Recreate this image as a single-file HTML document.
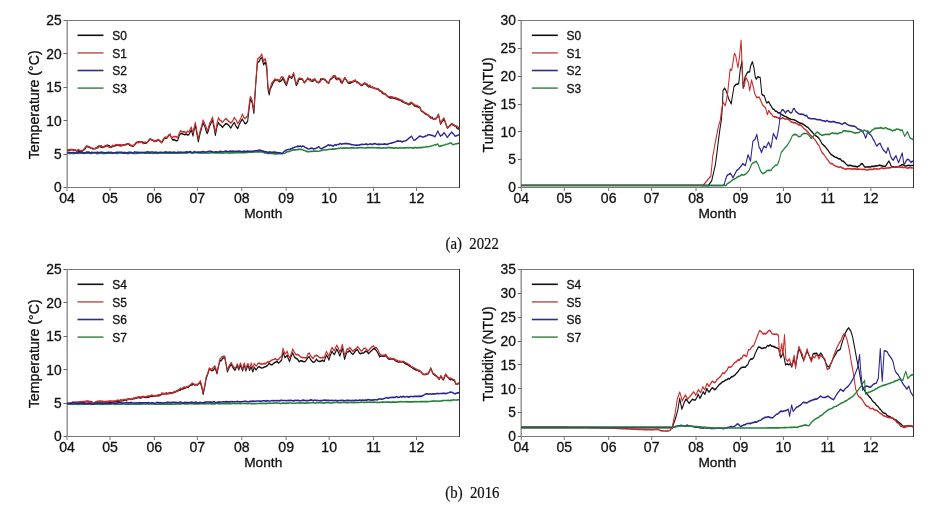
<!DOCTYPE html>
<html><head><meta charset="utf-8"><title>Figure</title>
<style>html,body{margin:0;padding:0;background:#fff;}body{width:942px;height:509px;overflow:hidden}svg{display:block}</style>
</head><body>
<svg width="942" height="509" viewBox="0 0 942 509" font-family="'Liberation Sans', Arial, Helvetica, sans-serif">
<rect width="942" height="509" fill="#fff"/>
<rect x="67" y="20" width="392.5" height="1" fill="#777"/>
<rect x="67" y="187" width="392.5" height="1" fill="#777"/>
<rect x="66" y="20" width="1" height="168" fill="#c6c6c6"/>
<rect x="67" y="20" width="1" height="168" fill="#9a9797"/>
<rect x="459" y="20" width="1" height="168" fill="#333"/>
<line x1="67" y1="188" x2="67" y2="191" stroke="#777" stroke-width="1"/>
<line x1="109.97" y1="188" x2="109.97" y2="191" stroke="#777" stroke-width="1"/>
<line x1="154.38" y1="188" x2="154.38" y2="191" stroke="#777" stroke-width="1"/>
<line x1="197.36" y1="188" x2="197.36" y2="191" stroke="#777" stroke-width="1"/>
<line x1="241.77" y1="188" x2="241.77" y2="191" stroke="#777" stroke-width="1"/>
<line x1="286.17" y1="188" x2="286.17" y2="191" stroke="#777" stroke-width="1"/>
<line x1="329.15" y1="188" x2="329.15" y2="191" stroke="#777" stroke-width="1"/>
<line x1="373.56" y1="188" x2="373.56" y2="191" stroke="#777" stroke-width="1"/>
<line x1="416.53" y1="188" x2="416.53" y2="191" stroke="#777" stroke-width="1"/>
<line x1="63.5" y1="187.5" x2="67" y2="187.5" stroke="#666" stroke-width="1"/>
<line x1="63.5" y1="154.5" x2="67" y2="154.5" stroke="#666" stroke-width="1"/>
<line x1="63.5" y1="120.5" x2="67" y2="120.5" stroke="#666" stroke-width="1"/>
<line x1="63.5" y1="87.5" x2="67" y2="87.5" stroke="#666" stroke-width="1"/>
<line x1="63.5" y1="53.5" x2="67" y2="53.5" stroke="#666" stroke-width="1"/>
<line x1="63.5" y1="20.5" x2="67" y2="20.5" stroke="#666" stroke-width="1"/>
<line x1="77.5" y1="35.3" x2="103.5" y2="35.3" stroke="#111111" stroke-width="1.6"/>
<line x1="77.5" y1="52.9" x2="103.5" y2="52.9" stroke="#c4605a" stroke-width="1.6"/>
<line x1="77.5" y1="70.5" x2="103.5" y2="70.5" stroke="#2d2d8c" stroke-width="1.6"/>
<line x1="77.5" y1="88.1" x2="103.5" y2="88.1" stroke="#4a8f4f" stroke-width="1.6"/>
<rect x="521" y="20" width="392.5" height="1" fill="#777"/>
<rect x="521" y="187" width="392.5" height="1" fill="#777"/>
<rect x="520" y="20" width="1" height="168" fill="#c6c6c6"/>
<rect x="521" y="20" width="1" height="168" fill="#9a9797"/>
<rect x="913" y="20" width="1" height="168" fill="#333"/>
<line x1="521.3" y1="188" x2="521.3" y2="191" stroke="#777" stroke-width="1"/>
<line x1="564.27" y1="188" x2="564.27" y2="191" stroke="#777" stroke-width="1"/>
<line x1="608.68" y1="188" x2="608.68" y2="191" stroke="#777" stroke-width="1"/>
<line x1="651.66" y1="188" x2="651.66" y2="191" stroke="#777" stroke-width="1"/>
<line x1="696.06" y1="188" x2="696.06" y2="191" stroke="#777" stroke-width="1"/>
<line x1="740.47" y1="188" x2="740.47" y2="191" stroke="#777" stroke-width="1"/>
<line x1="783.45" y1="188" x2="783.45" y2="191" stroke="#777" stroke-width="1"/>
<line x1="827.86" y1="188" x2="827.86" y2="191" stroke="#777" stroke-width="1"/>
<line x1="870.83" y1="188" x2="870.83" y2="191" stroke="#777" stroke-width="1"/>
<line x1="517.8" y1="187.5" x2="521.3" y2="187.5" stroke="#666" stroke-width="1"/>
<line x1="517.8" y1="159.5" x2="521.3" y2="159.5" stroke="#666" stroke-width="1"/>
<line x1="517.8" y1="131.5" x2="521.3" y2="131.5" stroke="#666" stroke-width="1"/>
<line x1="517.8" y1="104.5" x2="521.3" y2="104.5" stroke="#666" stroke-width="1"/>
<line x1="517.8" y1="76.5" x2="521.3" y2="76.5" stroke="#666" stroke-width="1"/>
<line x1="517.8" y1="48.5" x2="521.3" y2="48.5" stroke="#666" stroke-width="1"/>
<line x1="517.8" y1="20.5" x2="521.3" y2="20.5" stroke="#666" stroke-width="1"/>
<line x1="531.8" y1="35.3" x2="557.8" y2="35.3" stroke="#111111" stroke-width="1.6"/>
<line x1="531.8" y1="52.9" x2="557.8" y2="52.9" stroke="#c4605a" stroke-width="1.6"/>
<line x1="531.8" y1="70.5" x2="557.8" y2="70.5" stroke="#2d2d8c" stroke-width="1.6"/>
<line x1="531.8" y1="88.1" x2="557.8" y2="88.1" stroke="#4a8f4f" stroke-width="1.6"/>
<rect x="67" y="269" width="392.5" height="1" fill="#777"/>
<rect x="67" y="436" width="392.5" height="1" fill="#777"/>
<rect x="66" y="269" width="1" height="168" fill="#c6c6c6"/>
<rect x="67" y="269" width="1" height="168" fill="#9a9797"/>
<rect x="459" y="269" width="1" height="168" fill="#333"/>
<line x1="67" y1="437" x2="67" y2="440" stroke="#777" stroke-width="1"/>
<line x1="109.97" y1="437" x2="109.97" y2="440" stroke="#777" stroke-width="1"/>
<line x1="154.38" y1="437" x2="154.38" y2="440" stroke="#777" stroke-width="1"/>
<line x1="197.36" y1="437" x2="197.36" y2="440" stroke="#777" stroke-width="1"/>
<line x1="241.77" y1="437" x2="241.77" y2="440" stroke="#777" stroke-width="1"/>
<line x1="286.17" y1="437" x2="286.17" y2="440" stroke="#777" stroke-width="1"/>
<line x1="329.15" y1="437" x2="329.15" y2="440" stroke="#777" stroke-width="1"/>
<line x1="373.56" y1="437" x2="373.56" y2="440" stroke="#777" stroke-width="1"/>
<line x1="416.53" y1="437" x2="416.53" y2="440" stroke="#777" stroke-width="1"/>
<line x1="63.5" y1="436.5" x2="67" y2="436.5" stroke="#666" stroke-width="1"/>
<line x1="63.5" y1="403.5" x2="67" y2="403.5" stroke="#666" stroke-width="1"/>
<line x1="63.5" y1="369.5" x2="67" y2="369.5" stroke="#666" stroke-width="1"/>
<line x1="63.5" y1="336.5" x2="67" y2="336.5" stroke="#666" stroke-width="1"/>
<line x1="63.5" y1="302.5" x2="67" y2="302.5" stroke="#666" stroke-width="1"/>
<line x1="63.5" y1="269.5" x2="67" y2="269.5" stroke="#666" stroke-width="1"/>
<line x1="77.5" y1="284.3" x2="103.5" y2="284.3" stroke="#111111" stroke-width="1.6"/>
<line x1="77.5" y1="301.9" x2="103.5" y2="301.9" stroke="#c4605a" stroke-width="1.6"/>
<line x1="77.5" y1="319.5" x2="103.5" y2="319.5" stroke="#2d2d8c" stroke-width="1.6"/>
<line x1="77.5" y1="337.1" x2="103.5" y2="337.1" stroke="#4a8f4f" stroke-width="1.6"/>
<rect x="521" y="269" width="392.5" height="1" fill="#777"/>
<rect x="521" y="436" width="392.5" height="1" fill="#777"/>
<rect x="520" y="269" width="1" height="168" fill="#c6c6c6"/>
<rect x="521" y="269" width="1" height="168" fill="#9a9797"/>
<rect x="913" y="269" width="1" height="168" fill="#333"/>
<line x1="521.3" y1="437" x2="521.3" y2="440" stroke="#777" stroke-width="1"/>
<line x1="564.27" y1="437" x2="564.27" y2="440" stroke="#777" stroke-width="1"/>
<line x1="608.68" y1="437" x2="608.68" y2="440" stroke="#777" stroke-width="1"/>
<line x1="651.66" y1="437" x2="651.66" y2="440" stroke="#777" stroke-width="1"/>
<line x1="696.06" y1="437" x2="696.06" y2="440" stroke="#777" stroke-width="1"/>
<line x1="740.47" y1="437" x2="740.47" y2="440" stroke="#777" stroke-width="1"/>
<line x1="783.45" y1="437" x2="783.45" y2="440" stroke="#777" stroke-width="1"/>
<line x1="827.86" y1="437" x2="827.86" y2="440" stroke="#777" stroke-width="1"/>
<line x1="870.83" y1="437" x2="870.83" y2="440" stroke="#777" stroke-width="1"/>
<line x1="517.8" y1="436.5" x2="521.3" y2="436.5" stroke="#666" stroke-width="1"/>
<line x1="517.8" y1="412.5" x2="521.3" y2="412.5" stroke="#666" stroke-width="1"/>
<line x1="517.8" y1="388.5" x2="521.3" y2="388.5" stroke="#666" stroke-width="1"/>
<line x1="517.8" y1="364.5" x2="521.3" y2="364.5" stroke="#666" stroke-width="1"/>
<line x1="517.8" y1="341.5" x2="521.3" y2="341.5" stroke="#666" stroke-width="1"/>
<line x1="517.8" y1="317.5" x2="521.3" y2="317.5" stroke="#666" stroke-width="1"/>
<line x1="517.8" y1="293.5" x2="521.3" y2="293.5" stroke="#666" stroke-width="1"/>
<line x1="517.8" y1="269.5" x2="521.3" y2="269.5" stroke="#666" stroke-width="1"/>
<line x1="531.8" y1="284.3" x2="557.8" y2="284.3" stroke="#111111" stroke-width="1.6"/>
<line x1="531.8" y1="301.9" x2="557.8" y2="301.9" stroke="#c4605a" stroke-width="1.6"/>
<line x1="531.8" y1="319.5" x2="557.8" y2="319.5" stroke="#2d2d8c" stroke-width="1.6"/>
<line x1="531.8" y1="337.1" x2="557.8" y2="337.1" stroke="#4a8f4f" stroke-width="1.6"/>
<path d="M83.75 120.24 L85.31 120.02 L86.88 120.2 L88.44 119.79 L90 119.76 L92 119.95 L94 120.03 L96 120.72 L97.96 120.69 L99.92 121.27 L101.88 120.88 L103.38 120.49 L104.88 119.76 L106.69 118.77 L108.5 116.96 L110.37 117.54 L112.25 117.92 L114.44 118.64 L116.62 119.04 L118.81 118.79 L121 118.4 L122.87 117.01 L124.75 116.96 L126.56 117.78 L128.38 117.92 L129.88 117.64 L131.37 117.16 L132.88 116.48 L134.83 116.28 L136.79 116.74 L138.75 117.92 L140.59 117.08 L142.44 116.77 L144.28 116.6 L146.12 116 L148.08 116.14 L150.04 116.53 L152 116.48 L153.77 115.94 L155.55 116.03 L157.32 115.77 L159.1 115.06 L160.87 115.04 L162.58 116.37 L164.29 116.54 L166 116.96 L167.71 116.43 L169.42 114.69 L171.12 113.92 L173.12 113.54 L175.12 113.62 L177.12 113.68 L179.08 113.93 L181.04 114.52 L183 114.56 L185.19 113.02 L187.38 111.28 L189.33 111.74 L191.29 112.18 L193.25 113.2 L194.75 112.51 L196.25 112.73 L197.75 111.76 L199.94 112.64 L202.12 114.16 L203.94 112.34 L205.75 110.32 L207.25 110.49 L208.75 110.32 L210.62 108.32 L212.5 107.52 L214.75 110.8 L216.25 112.22 L217.75 111.52 L219.94 112.59 L222.12 112.4 L223.94 108.63 L225.75 106.8 L227.5 106.94 L229.25 107.34 L231 107.68 L232.71 107.29 L234.42 107.92 L236.12 107.68 L237.63 105.77 L239.12 103.92 L241.25 108.64 L242.75 103.7 L244.25 100.16 L246.06 107.16 L247.88 113.36 L250.12 106.8 L251.94 102.84 L253.75 98.24 L256 101.12 L257.5 104.41 L259 106.8 L260.44 104.65 L261.88 101.12 L263.75 98.69 L265.62 95.92 L267.44 102.1 L269.25 108.16 L271.12 101.66 L273 98.16 L274.71 99.74 L276.42 100.43 L278.12 102 L280.31 100.18 L282.5 98.8 L284.5 99.39 L286.5 100.74 L288.5 102.4 L290.69 99.95 L292.88 98 L295.06 101.02 L297.25 102.8 L299.17 99.34 L301.08 97.14 L303 95.36 L304.62 97.23 L306.25 98.88 L307.94 98.53 L309.62 96.8 L311.25 87.68 L312.88 79.2 L315.12 82 L317.38 90.56 L319.5 69.36 L321.75 50.32 L324 48.96 L325.62 46.91 L327.25 46.08 L329.5 51.76 L331.62 49.68 L333.37 54.56 L335 71.6 L336.5 75.76 L337.94 71.09 L339.38 69.44 L341.56 66.05 L343.75 64.08 L345.62 64.09 L347.5 64.31 L349.38 65.44 L351.56 64.63 L353.75 62.64 L355.94 66.14 L358.12 68.32 L359.81 64.85 L361.5 61.2 L363.12 62.07 L364.75 62.64 L367 59.12 L368.69 63.98 L370.38 68.32 L372 66.8 L373.62 63.36 L375.81 63.45 L378 63.44 L380.25 66.24 L382.44 64.79 L384.62 62.72 L386.12 63.74 L387.62 63.17 L389.12 64.8 L391.31 64.89 L393.5 63.44 L395.69 65.41 L397.88 66.24 L399.38 65.62 L400.87 63.19 L402.37 63.44 L404.56 63.42 L406.75 64.16 L408.88 65.83 L411 66.48 L412.69 63.63 L414.38 62.96 L416.25 61.77 L418.12 60.8 L419.56 62.85 L421 63.68 L422.62 62.53 L424.25 62.96 L425.94 65.69 L427.62 66.48 L429.25 64.69 L430.87 62.24 L432.37 63.56 L433.88 65.26 L435.38 66.48 L437.56 66.51 L439.75 65.76 L441.94 65.11 L444.12 64.32 L445.78 65.91 L447.44 65.72 L449.09 66.77 L450.75 67.92 L452.41 68.37 L454.06 67.58 L455.72 66.85 L457.37 67.2 L459.03 68.47 L460.69 69.48 L462.34 69.03 L464 70 L465.77 69.85 L467.55 70.53 L469.32 70.82 L471.1 71.06 L472.88 71.44 L474.53 72.77 L476.19 72.87 L477.84 74.48 L479.5 74.96 L481.16 75.25 L482.81 76.11 L484.47 77.26 L486.12 77.76 L487.78 78.3 L489.44 78.39 L491.09 78.41 L492.75 78.48 L494.41 78.89 L496.06 79.25 L497.72 79.74 L499.38 79.92 L501 80.45 L502.62 81.18 L504.25 81.68 L506.25 82.38 L508.25 82.72 L509.69 83.28 L511.12 83.84 L512.81 83.28 L514.5 82.24 L516.25 83.33 L518 84.7 L519.75 84.96 L521.46 85.44 L523.17 85.57 L524.87 86.08 L526.62 88.8 L528.34 89.38 L530.06 90.2 L531.78 91.2 L533.5 91.6 L535.2 92.26 L536.9 93.26 L538.6 94.49 L540.3 93.85 L542 95.44 L543.75 94.8 L545.5 94.88 L546.81 93.32 L548.12 91.6 L550.62 99.28 L552.81 97.21 L555 94.88 L557.12 98.8 L559.25 102.56 L560.96 101.33 L562.67 100.58 L564.38 99.28 L566.12 99.93 L567.88 100.23 L569.62 100.96 L571.69 102.82 L573.75 103.12" fill="none" stroke="#111111" stroke-width="1.3" stroke-linejoin="round" transform="scale(0.8,1.25)"/>
<path d="M83.75 120.08 L85.31 120.1 L86.88 119.62 L88.44 119.68 L90 119.6 L92 119.83 L94 120.21 L96 120.56 L97.96 119.52 L99.92 120.47 L101.88 120.72 L103.38 120.56 L104.88 119.6 L106.69 117.73 L108.5 116.8 L110.37 117.25 L112.25 117.76 L114.44 118.7 L116.62 118.88 L118.81 118.9 L121 118.24 L122.87 118.12 L124.75 116.8 L126.56 116.6 L128.38 117.76 L129.88 117.14 L131.37 116.66 L132.88 116.32 L134.83 117.05 L136.79 117.72 L138.75 117.76 L140.59 116.21 L142.44 117.24 L144.28 115.74 L146.12 115.84 L148.08 116.27 L150.04 115.56 L152 116.32 L153.77 116.1 L155.55 116.22 L157.32 115.4 L159.1 115.24 L160.87 114.88 L162.58 115.84 L164.29 116.22 L166 116.8 L167.71 115.75 L169.42 115.39 L171.12 113.76 L173.12 114.1 L175.12 113.48 L177.12 113.52 L179.08 114.91 L181.04 113.65 L183 114.4 L185.19 113.13 L187.38 111.12 L189.33 111.65 L191.29 112.45 L193.25 113.04 L194.75 112.84 L196.25 112.17 L197.75 111.6 L199.94 113.06 L202.12 114 L203.94 111.47 L205.75 110.16 L207.25 109.56 L208.75 110.16 L210.62 109.01 L212.5 107.36 L214.75 110.64 L216.25 109.5 L217.75 109.28 L219.94 109.23 L222.12 110.16 L223.94 106.65 L225.75 104.56 L227.5 105.46 L229.25 105.51 L231 105.44 L232.71 106.15 L234.42 104.99 L236.12 105.44 L237.63 103.56 L239.12 101.68 L241.25 106.4 L242.75 101.61 L244.25 97.92 L246.06 104.89 L247.88 111.12 L250.12 104.56 L251.94 101.04 L253.75 96 L256 98.88 L257.5 101.29 L259 104.56 L260.44 102.47 L261.88 98.88 L263.75 96.75 L265.62 93.68 L267.44 99.71 L269.25 105.92 L271.12 99.09 L273 94.16 L274.71 96.12 L276.42 96.67 L278.12 98 L280.31 96.11 L282.5 94.8 L284.5 96.19 L286.5 97.4 L288.5 98.4 L290.69 96.92 L292.88 94 L295.06 95.91 L297.25 98.8 L299.17 96.87 L301.08 94.55 L303 91.36 L304.62 93.82 L306.25 94.88 L307.94 93.75 L309.62 92.8 L311.25 84.64 L312.88 77.2 L315.12 80 L317.38 88.56 L319.5 67.36 L321.75 47.52 L324 46.16 L325.62 45.05 L327.25 43.28 L329.5 48.96 L331.62 46.88 L333.37 51.76 L335 68.8 L336.5 72.96 L337.94 69.87 L339.38 66.64 L341.56 64.95 L343.75 63.12 L345.62 64.43 L347.5 63.87 L349.38 64.48 L351.56 61.7 L353.75 61.68 L355.94 64.29 L358.12 67.36 L359.81 62.69 L361.5 60.24 L363.12 61.45 L364.75 61.68 L367 58.16 L368.69 62.95 L370.38 67.36 L372 64.51 L373.62 62.4 L375.81 62.75 L378 63.12 L380.25 65.92 L382.44 64.66 L384.62 62.4 L386.12 63.14 L387.62 64.58 L389.12 64.48 L391.31 63.76 L393.5 63.12 L395.69 65.14 L397.88 65.92 L399.38 65.88 L400.87 65.02 L402.37 63.12 L404.56 63.08 L406.75 63.84 L408.88 65.53 L411 66.16 L412.69 63.27 L414.38 62.64 L416.25 60.91 L418.12 60.48 L419.56 60.74 L421 63.36 L422.62 63.64 L424.25 62.64 L425.94 63.66 L427.62 66.16 L429.25 64.03 L430.87 61.92 L432.37 63.22 L433.88 64.73 L435.38 66.16 L437.56 65.45 L439.75 65.44 L441.94 64.86 L444.12 64 L445.78 65.97 L447.44 65.83 L449.09 67.02 L450.75 67.6 L452.41 68.02 L454.06 67.12 L455.72 66.3 L457.37 66.88 L459.03 67.25 L460.69 68.92 L462.34 67.99 L464 69.68 L465.77 69.78 L467.55 70.58 L469.32 70.8 L471.1 70.83 L472.88 71.12 L474.53 72.26 L476.19 72.93 L477.84 73.38 L479.5 74.64 L481.16 74.84 L482.81 75.84 L484.47 77.04 L486.12 77.44 L487.78 77.44 L489.44 77.51 L491.09 77.73 L492.75 78.16 L494.41 78.03 L496.06 78.84 L497.72 78.86 L499.38 79.6 L501 80.3 L502.62 80.02 L504.25 81.36 L506.25 81.98 L508.25 82.4 L509.69 82.75 L511.12 83.52 L512.81 82.1 L514.5 81.92 L516.25 83.06 L518 83.65 L519.75 84.64 L521.46 84.3 L523.17 85.11 L524.87 85.76 L526.62 88.48 L528.34 89.27 L530.06 89.73 L531.78 90.83 L533.5 91.28 L535.2 92.29 L536.9 93.03 L538.6 93.69 L540.3 94.78 L542 95.12 L543.75 95.05 L545.5 94.56 L546.81 93.06 L548.12 91.28 L550.62 98.96 L552.81 96.09 L555 94.56 L557.12 98.69 L559.25 102.24 L560.96 101.57 L562.67 99.96 L564.38 98.96 L566.12 99.37 L567.88 100.7 L569.62 100.64 L571.69 101.16 L573.75 102.8" fill="none" stroke="#c82c2c" stroke-width="1.3" stroke-linejoin="round" transform="scale(0.8,1.25)"/>
<path d="M83.75 122.56 L85.51 122.64 L87.27 122.95 L89.03 122.41 L90.8 122.67 L92.56 122.86 L94.32 122.54 L96.08 122.65 L97.84 122.7 L99.6 122.42 L101.36 122.55 L103.12 122.61 L104.89 122.69 L106.65 122.55 L108.41 122.53 L110.17 122.4 L111.93 122.5 L113.69 122.7 L115.45 122.58 L117.22 122.42 L118.98 122.43 L120.74 122.99 L122.5 122.74 L124.26 122.66 L126.02 122.15 L127.78 122.66 L129.55 122.64 L131.31 122.83 L133.07 122.63 L134.83 122.55 L136.59 122.64 L138.35 122.25 L140.11 122.73 L141.88 122.61 L143.64 122.45 L145.4 122.77 L147.16 122.85 L148.92 122.34 L150.68 122.45 L152.44 122.61 L154.2 122.59 L155.97 122.5 L157.73 122.4 L159.49 122.9 L161.25 122.73 L163.01 122.37 L164.77 122.34 L166.53 122.83 L168.3 122.72 L170.06 122.85 L171.82 122.69 L173.58 122.42 L175.34 122.6 L177.1 122.21 L178.86 122.44 L180.62 122.55 L182.39 122.64 L184.15 122.44 L185.91 122.54 L187.67 122.63 L189.43 122.62 L191.19 122.66 L192.95 122.59 L194.72 122.51 L196.48 122.69 L198.24 122.57 L200 122.56 L201.75 122.42 L203.51 122.44 L205.26 122.53 L207.02 122.51 L208.77 122.54 L210.53 122.51 L212.28 122.53 L214.04 122.47 L215.79 122.28 L217.54 122.54 L219.3 122.64 L221.05 122.53 L222.81 122.42 L224.56 122.51 L226.32 122.28 L228.07 122.12 L229.82 122.43 L231.58 122.26 L233.33 122.52 L235.09 122.22 L236.84 121.96 L238.6 122.21 L240.35 122.62 L242.11 122.3 L243.86 122.13 L245.61 122.22 L247.37 122.42 L249.12 122.4 L250.88 122.34 L252.63 122.54 L254.39 122.41 L256.14 122.29 L257.89 122.38 L259.65 122.54 L261.4 122.42 L263.16 122.42 L264.91 122.08 L266.67 122.22 L268.42 122.35 L270.18 122.18 L271.93 122.39 L273.68 122.3 L275.44 122.34 L277.19 122.16 L278.95 122.59 L280.7 122.37 L282.46 122.13 L284.21 122.17 L285.96 122.56 L287.72 122.08 L289.47 122.27 L291.23 122.28 L292.98 122.11 L294.74 121.92 L296.49 122.13 L298.25 122.15 L300 122.08 L301.7 122.22 L303.4 122.13 L305.1 121.97 L306.8 122.07 L308.5 121.98 L310.2 121.89 L311.9 121.83 L313.6 121.74 L315.3 121.85 L317 121.54 L318.7 121.57 L320.4 121.63 L322.1 121.36 L323.8 121.49 L325.5 121.52 L327.4 121.44 L329.3 121.89 L331.2 122.33 L333.1 122.57 L335 122.72 L336.8 122.74 L338.6 122.75 L340.4 122.59 L342.2 123.14 L344 122.96 L345.8 123.09 L347.6 122.8 L349.4 122.95 L351.2 122.72 L353 123.04 L354.79 122.75 L356.58 122.36 L358.37 121.5 L360.17 121.38 L361.96 121.07 L363.75 120.56 L365.55 120.11 L367.36 119.93 L369.16 119.88 L370.96 119.77 L372.77 119.48 L374.57 119.54 L376.38 119.36 L378.08 119.78 L379.77 120.23 L381.47 120.62 L383.17 121.14 L384.87 121.28 L386.7 121.42 L388.52 120.98 L390.34 121.06 L392.16 120.93 L393.98 120.88 L395.8 120.99 L397.62 120.96 L399.45 120.77 L401.27 120.65 L403.09 120.12 L404.91 119.98 L406.73 119.98 L408.55 119.76 L410.38 119.6 L412.07 119.45 L413.77 119.38 L415.47 119.17 L417.18 119.3 L418.88 119.14 L420.57 118.96 L422.27 118.76 L423.97 118.74 L425.67 118.23 L427.37 118.56 L429.14 118.38 L430.9 118.51 L432.66 118.24 L434.42 118.49 L436.18 118.45 L437.94 118.18 L439.7 118.33 L441.46 118.3 L443.22 118.39 L444.98 118.39 L446.74 118.26 L448.5 118.24 L450.28 118.1 L452.05 118.22 L453.83 118.23 L455.6 118.36 L457.38 118.29 L459.16 118.12 L460.93 118.02 L462.71 118.18 L464.48 118.12 L466.26 118.06 L468.03 118.22 L469.81 118.16 L471.59 118.26 L473.36 118.32 L475.14 118.17 L476.91 118.61 L478.69 118.19 L480.47 118.42 L482.24 118.26 L484.02 118.42 L485.79 117.86 L487.57 118.12 L489.34 118.28 L491.12 118.34 L492.9 118.61 L494.67 118.29 L496.45 118.44 L498.22 118.36 L500 118.24 L501.77 118.38 L503.55 118.3 L505.32 118.18 L507.1 118.28 L508.88 118.01 L510.65 118.37 L512.42 118 L514.2 118.19 L515.98 118.48 L517.75 118.1 L519.52 118.13 L521.3 118.3 L523.08 118.11 L524.85 117.96 L526.62 118.08 L528.34 117.93 L530.06 117.79 L531.78 117.62 L533.5 117.2 L535.22 117.41 L536.94 117.21 L538.66 116.75 L540.38 116.56 L542.09 116.24 L543.81 115.77 L545.53 115.71 L547.25 115.12 L548.88 117.12 L550.59 116.73 L552.31 116.67 L554.03 116.2 L555.75 116 L557.69 115.43 L559.62 115.19 L561.56 114.83 L563.5 114.16 L566.12 115.76 L568.03 115.42 L569.94 114.97 L571.84 114.87 L573.75 114.4" fill="none" stroke="#277f38" stroke-width="1.3" stroke-linejoin="round" transform="scale(0.8,1.25)"/>
<path d="M83.75 121.92 L85.47 121.91 L87.19 122.01 L88.91 122.31 L90.62 122.22 L92.34 121.83 L94.06 122.51 L95.78 121.97 L97.5 122.16 L99.22 121.82 L100.94 121.98 L102.66 121.57 L104.38 122.43 L106.09 122.33 L107.81 121.72 L109.53 121.66 L111.25 121.64 L112.97 122.32 L114.69 121.93 L116.41 122.03 L118.12 121.98 L119.84 122.03 L121.56 121.81 L123.28 122.08 L125 122.08 L126.79 121.73 L128.57 122.05 L130.36 122.13 L132.14 122.16 L133.93 121.99 L135.71 121.82 L137.5 122.06 L139.29 121.9 L141.07 122.39 L142.86 122.19 L144.64 121.97 L146.43 121.88 L148.21 121.81 L150 121.75 L151.79 121.88 L153.57 122.03 L155.36 122.07 L157.14 122.08 L158.93 122.44 L160.71 121.76 L162.5 121.92 L164.29 121.92 L166.07 122.58 L167.86 121.46 L169.64 121.78 L171.43 121.94 L173.21 121.93 L175 121.99 L176.79 121.83 L178.57 121.97 L180.36 121.89 L182.14 122.06 L183.93 121.42 L185.71 121.66 L187.5 121.87 L189.29 121.62 L191.07 121.61 L192.86 122.01 L194.64 121.7 L196.43 122 L198.21 122.02 L200 121.84 L201.72 121.91 L203.45 121.95 L205.17 121.79 L206.9 121.47 L208.62 121.79 L210.34 121.9 L212.07 121.66 L213.79 121.75 L215.52 121.95 L217.24 121.55 L218.97 121.9 L220.69 122.19 L222.41 121.6 L224.14 121.76 L225.86 121.68 L227.59 122.08 L229.31 121.78 L231.03 121.91 L232.76 121.52 L234.48 121.67 L236.21 121.66 L237.93 121.23 L239.66 122 L241.38 121.86 L243.1 121.21 L244.83 121.8 L246.55 121.59 L248.28 121.72 L250 121.6 L251.72 121.67 L253.45 121.2 L255.17 121.48 L256.9 121.87 L258.62 121.35 L260.34 121.22 L262.07 121.12 L263.79 121.13 L265.52 121.48 L267.24 121.79 L268.97 121.46 L270.69 121.39 L272.41 121.85 L274.14 121.17 L275.86 121.11 L277.59 121.37 L279.31 121.36 L281.03 120.96 L282.76 120.9 L284.48 121.23 L286.21 121.2 L287.93 120.8 L289.66 121.04 L291.38 120.94 L293.1 121.16 L294.83 121 L296.55 120.98 L298.28 120.9 L300 120.96 L301.82 121.21 L303.64 121.29 L305.46 120.87 L307.29 121.16 L309.11 120.78 L310.93 120.98 L312.75 120.96 L314.57 121.05 L316.39 121.14 L318.21 120.59 L320.04 120.58 L321.86 120.55 L323.68 120.05 L325.5 120.32 L327.4 120.68 L329.3 120.86 L331.2 121.47 L333.1 121.46 L335 122.08 L336.88 121.51 L338.75 121.89 L340.62 121.84 L342.5 121.68 L344.25 121.71 L346 122.21 L347.75 122.09 L349.5 122.17 L351.25 122.59 L353 122.64 L355.12 121.1 L357.25 120.32 L358.88 119.82 L360.5 119.64 L362.12 119.5 L363.75 118.96 L365.42 118.5 L367.1 118.2 L368.77 117.55 L370.45 117.37 L372.12 116.88 L373.72 117.28 L375.31 116.72 L376.91 117.45 L378.5 116.88 L380.09 117.25 L381.69 117.92 L383.28 118.48 L384.87 118.96 L386.57 119.21 L388.27 118.66 L389.97 118.46 L391.67 119.11 L393.37 118.96 L395.12 118.56 L396.88 117.94 L398.62 117.2 L400.25 118.71 L401.88 118.96 L403.57 118.39 L405.28 117.77 L406.97 117.31 L408.67 116.55 L410.38 115.84 L411.97 116.5 L413.56 116.06 L415.16 116.53 L416.75 116.88 L418.45 115.65 L420.15 116.27 L421.85 115.59 L423.55 115.5 L425.25 114.88 L427.02 115.44 L428.79 114.96 L430.56 114.94 L432.33 114.92 L434.1 114.88 L435.87 115.12 L437.57 115.19 L439.27 115.72 L440.97 115.8 L442.67 116.03 L444.38 116.24 L446.05 116.05 L447.72 116.17 L449.4 115.93 L451.07 115.63 L452.75 115.52 L454.45 115.64 L456.15 115.4 L457.85 115.12 L459.55 115.71 L461.25 115.43 L462.95 115.05 L464.65 115.5 L466.35 115.28 L468.05 114.78 L469.75 115.12 L471.57 115.56 L473.39 115.31 L475.21 115.51 L477.04 115.4 L478.86 115.37 L480.68 115.09 L482.5 115.52 L484.2 115.48 L485.9 114.98 L487.6 114.64 L489.3 114.52 L491 114.16 L492.59 113.82 L494.19 113.6 L495.78 112.99 L497.37 112.72 L499.08 113 L500.79 112.79 L502.5 113.6 L504.22 113 L505.94 112.76 L507.66 112.42 L509.38 111.6 L511.08 110.61 L512.79 109.76 L514.5 108.88 L517.12 112.16 L518.88 111.98 L520.62 111.04 L522.75 109.88 L524.87 108.88 L526.58 109.24 L528.29 109.66 L530 109.44 L531.71 108.89 L533.42 108.61 L535.12 107.76 L536.88 107.78 L538.62 108.18 L540.38 108.32 L542.06 108.86 L543.75 109.44 L545.5 107.15 L547.25 104.8 L548.94 107.11 L550.62 108.88 L552.81 108.05 L555 106.08 L557.12 107.88 L559.25 110 L560.96 108.4 L562.67 107.19 L564.38 105.6 L566.56 106.99 L568.75 108.88 L570.42 108.63 L572.08 108.27 L573.75 107.76" fill="none" stroke="#2a2592" stroke-width="1.3" stroke-linejoin="round" transform="scale(0.8,1.25)"/>
<path d="M651.88 148.4 L653.63 148.4 L655.38 148.4 L657.13 148.4 L658.88 148.4 L660.63 148.4 L662.38 148.4 L664.13 148.4 L665.88 148.4 L667.63 148.4 L669.38 148.4 L671.14 148.4 L672.89 148.4 L674.64 148.4 L676.39 148.4 L678.14 148.4 L679.89 148.4 L681.64 148.4 L683.39 148.4 L685.14 148.4 L686.89 148.4 L688.65 148.4 L690.4 148.4 L692.15 148.4 L693.9 148.4 L695.65 148.4 L697.4 148.4 L699.15 148.4 L700.9 148.4 L702.65 148.4 L704.4 148.4 L706.15 148.4 L707.91 148.4 L709.66 148.4 L711.41 148.4 L713.16 148.4 L714.91 148.4 L716.66 148.4 L718.41 148.4 L720.16 148.4 L721.91 148.4 L723.66 148.4 L725.42 148.4 L727.17 148.4 L728.92 148.4 L730.67 148.4 L732.42 148.4 L734.17 148.4 L735.92 148.4 L737.67 148.4 L739.42 148.4 L741.17 148.4 L742.92 148.4 L744.68 148.4 L746.43 148.4 L748.18 148.4 L749.93 148.4 L751.68 148.4 L753.43 148.4 L755.18 148.4 L756.93 148.4 L758.68 148.4 L760.43 148.4 L762.19 148.4 L763.94 148.4 L765.69 148.4 L767.44 148.4 L769.19 148.4 L770.94 148.4 L772.69 148.4 L774.44 148.4 L776.19 148.4 L777.94 148.4 L779.69 148.4 L781.45 148.4 L783.2 148.4 L784.95 148.4 L786.7 148.4 L788.45 148.4 L790.2 148.4 L791.95 148.4 L793.7 148.4 L795.45 148.4 L797.2 148.4 L798.96 148.4 L800.71 148.4 L802.46 148.4 L804.21 148.4 L805.96 148.4 L807.71 148.4 L809.46 148.4 L811.21 148.4 L812.96 148.4 L814.71 148.4 L816.46 148.4 L818.22 148.4 L819.97 148.4 L821.72 148.4 L823.47 148.4 L825.22 148.4 L826.97 148.4 L828.72 148.4 L830.47 148.4 L832.22 148.4 L833.97 148.4 L835.73 148.4 L837.48 148.4 L839.23 148.4 L840.98 148.4 L842.73 148.4 L844.48 148.4 L846.23 148.4 L847.98 148.4 L849.73 148.4 L851.48 148.4 L853.23 148.4 L854.99 148.4 L856.74 148.4 L858.49 148.4 L860.24 148.4 L861.99 148.4 L863.74 148.4 L865.49 148.4 L867.24 148.4 L868.99 148.4 L870.74 148.4 L872.5 148.4 L874.25 148.4 L876 148.4 L877.75 148.4 L879.5 148.4 L881.25 148.4 L883.31 148.41 L885.37 148.56 L887.56 146.57 L889.75 144.32 L891.94 137.95 L894.12 132.32 L895.81 124.02 L897.5 115.36 L899.75 104 L901.5 96.96 L903 85.68 L903.75 72.4 L905.75 70.56 L907.19 72.07 L908.62 74.32 L910.62 78.72 L912.31 80.75 L914 83.12 L915.75 76.07 L917.5 69.28 L919 68.22 L920.5 67.36 L921.94 67.29 L923.38 66.8 L925.37 55.44 L927.37 49.12 L928.88 70.56 L931.25 61.76 L932.75 59.86 L934.25 57.92 L935.69 57.54 L937.12 57.36 L938.12 52.96 L940.5 49.44 L942.37 53.84 L944.12 61.76 L945.37 63.28 L947.37 61.36 L948.81 61.81 L950.25 62 L952.25 75.2 L953.75 76.22 L955.25 76.48 L956.69 79.32 L958.12 82.16 L959.62 81.93 L961.12 81.52 L962.75 83.71 L964.38 85.37 L966 87.2 L967.62 87.51 L969.25 89.02 L970.88 89.04 L972.83 90.42 L974.79 90.27 L976.75 91.6 L978.75 92.2 L980.75 92.93 L982.75 93.44 L984.71 94.31 L986.67 94.88 L988.62 95.36 L990.58 95.64 L992.54 95.8 L994.5 96.4 L996.46 97.12 L998.42 98.03 L1000.37 98.48 L1002.33 98.86 L1004.29 99.51 L1006.25 100.4 L1008.21 101.43 L1010.17 102.02 L1012.12 103.52 L1014 104.79 L1015.88 106.08 L1017.75 107.52 L1019.71 108.67 L1021.67 109.43 L1023.62 110.64 L1025.56 112.63 L1027.5 115.04 L1029.56 116.15 L1031.62 117.44 L1033.28 118.85 L1034.94 120.12 L1036.59 121.7 L1038.25 123.12 L1040.02 124 L1041.8 124.81 L1043.58 125.64 L1045.35 125.75 L1047.12 126.64 L1048.78 127.08 L1050.44 127.12 L1052.09 128.72 L1053.75 128.8 L1055.58 129.8 L1057.42 131.14 L1059.25 132.32 L1061.08 132.53 L1062.92 132.15 L1064.75 132.56 L1066.41 132.95 L1068.06 133.11 L1069.72 132.96 L1071.38 133.68 L1073.03 133.05 L1074.69 132.57 L1076.34 131.13 L1078 130.88 L1079.62 132.47 L1081.25 133.68 L1082.92 133.62 L1084.58 133.58 L1086.25 133.47 L1087.92 133.57 L1089.58 133.09 L1091.25 133.04 L1093.02 133.11 L1094.8 132.65 L1096.57 132.78 L1098.35 132.27 L1100.12 132.32 L1101.78 132.47 L1103.44 133.1 L1105.09 132.97 L1106.75 133.04 L1108.94 130.88 L1111.12 128.8 L1112.81 130.97 L1114.5 133.68 L1116.41 133.43 L1118.31 133.61 L1120.22 133.73 L1122.12 133.44 L1124 132.93 L1125.88 132.34 L1127.75 131.6 L1129.38 132.07 L1131 132.56 L1132.77 132.84 L1134.54 132.39 L1136.31 132.31 L1138.08 132.61 L1139.85 132.38 L1141.62 132.32" fill="none" stroke="#111111" stroke-width="1.3" stroke-linejoin="round" transform="scale(0.8,1.25)"/>
<path d="M651.88 148.4 L653.62 148.4 L655.36 148.4 L657.1 148.4 L658.85 148.4 L660.59 148.4 L662.33 148.4 L664.08 148.4 L665.82 148.4 L667.56 148.4 L669.31 148.4 L671.05 148.4 L672.79 148.4 L674.54 148.4 L676.28 148.4 L678.02 148.4 L679.77 148.4 L681.51 148.4 L683.25 148.4 L685 148.4 L686.74 148.4 L688.48 148.4 L690.22 148.4 L691.97 148.4 L693.71 148.4 L695.45 148.4 L697.2 148.4 L698.94 148.4 L700.68 148.4 L702.43 148.4 L704.17 148.4 L705.91 148.4 L707.66 148.4 L709.4 148.4 L711.14 148.4 L712.89 148.4 L714.63 148.4 L716.37 148.4 L718.12 148.4 L719.86 148.4 L721.6 148.4 L723.34 148.4 L725.09 148.4 L726.83 148.4 L728.57 148.4 L730.32 148.4 L732.06 148.4 L733.8 148.4 L735.55 148.4 L737.29 148.4 L739.03 148.4 L740.78 148.4 L742.52 148.4 L744.26 148.4 L746.01 148.4 L747.75 148.4 L749.49 148.4 L751.24 148.4 L752.98 148.4 L754.72 148.4 L756.46 148.4 L758.21 148.4 L759.95 148.4 L761.69 148.4 L763.44 148.4 L765.18 148.4 L766.92 148.4 L768.67 148.4 L770.41 148.4 L772.15 148.4 L773.9 148.4 L775.64 148.4 L777.38 148.4 L779.13 148.4 L780.87 148.4 L782.61 148.4 L784.36 148.4 L786.1 148.4 L787.84 148.4 L789.58 148.4 L791.33 148.4 L793.07 148.4 L794.81 148.4 L796.56 148.4 L798.3 148.4 L800.04 148.4 L801.79 148.4 L803.53 148.4 L805.27 148.4 L807.02 148.4 L808.76 148.4 L810.5 148.4 L812.25 148.4 L813.99 148.4 L815.73 148.4 L817.48 148.4 L819.22 148.4 L820.96 148.4 L822.71 148.4 L824.45 148.4 L826.19 148.4 L827.93 148.4 L829.68 148.4 L831.42 148.4 L833.16 148.4 L834.91 148.4 L836.65 148.4 L838.39 148.4 L840.14 148.4 L841.88 148.4 L843.62 148.4 L845.37 148.4 L847.11 148.4 L848.85 148.4 L850.6 148.4 L852.34 148.4 L854.08 148.4 L855.83 148.4 L857.57 148.4 L859.31 148.4 L861.05 148.4 L862.8 148.4 L864.54 148.4 L866.28 148.4 L868.03 148.4 L869.77 148.4 L871.51 148.4 L873.26 148.4 L875 148.4 L876.88 148.4 L878.75 148.4 L880.94 146.65 L883.12 145.04 L884.96 143.49 L886.79 142.15 L888.62 140.8 L890.88 125.2 L892.5 119.71 L894.12 113.92 L895.81 108.36 L897.5 102.64 L898.94 99.15 L900.37 96.24 L901.88 88.48 L903.75 81.84 L905.25 83.22 L906.75 84.4 L908.19 79.4 L909.62 74.32 L911.13 64.64 L912.62 55.44 L914.62 56.08 L916.25 49.67 L917.87 42.88 L919.5 44.16 L921 49.09 L922.5 54.16 L924.38 45.36 L926.38 32.16 L928.38 65.52 L930.25 69.28 L932.25 61.76 L933.75 63.56 L935.25 65.52 L937.12 72.4 L939.5 64 L940.94 67.91 L942.37 71.44 L943.12 74.32 L944.56 76.52 L946 78.08 L947.62 77.75 L949.25 77.76 L951.25 80.99 L953.25 84 L955.19 85.07 L957.12 86.56 L959.12 91.6 L961.12 88.4 L962.75 90.42 L964.38 91.21 L966 92.8 L967.96 93.51 L969.92 93.5 L971.88 94.08 L973.5 94.49 L975.12 95.04 L976.75 94.72 L978.32 94.24 L979.9 94.87 L981.48 95.22 L983.05 95.21 L984.62 95.36 L986.62 96.03 L988.62 97.53 L990.62 97.84 L992.58 98.29 L994.54 98.3 L996.5 99.12 L998.46 99.94 L1000.42 99.93 L1002.37 100.96 L1004.31 102.52 L1006.25 103.52 L1008.06 104.42 L1009.87 105.6 L1011.45 106.77 L1013.02 108.17 L1014.6 109.04 L1016.18 109.81 L1017.75 111.28 L1019.71 112.55 L1021.67 114.92 L1023.62 116.32 L1025.56 119.34 L1027.5 122 L1029.56 123.4 L1031.62 125.2 L1033.28 126.83 L1034.94 128.16 L1036.59 129.62 L1038.25 130.88 L1040.02 130.85 L1041.8 131.83 L1043.58 132.63 L1045.35 133.1 L1047.12 133.44 L1048.96 133.93 L1050.79 133.41 L1052.62 134.32 L1054.46 134.68 L1056.29 135.45 L1058.12 135.12 L1059.96 134.89 L1061.79 135.04 L1063.62 135.13 L1065.46 135.33 L1067.29 135.01 L1069.12 135.12 L1070.78 135.49 L1072.44 135.11 L1074.09 135.45 L1075.75 135.35 L1077.41 135.61 L1079.06 135.49 L1080.72 135.37 L1082.38 135.84 L1084.03 136.01 L1085.69 135.73 L1087.34 135.44 L1089 135.53 L1090.66 135.63 L1092.31 135.07 L1093.97 135.18 L1095.62 135.12 L1097.28 135.16 L1098.94 135.07 L1100.59 134.77 L1102.25 134.25 L1103.91 134.97 L1105.56 134.66 L1107.22 134.49 L1108.88 134.4 L1110.53 134.24 L1112.19 134.28 L1113.84 134.03 L1115.5 133.79 L1117.16 133.77 L1118.81 133.72 L1120.47 133.62 L1122.12 133.68 L1123.9 133.47 L1125.67 133.96 L1127.44 133.56 L1129.22 134.1 L1130.99 133.76 L1132.76 134.16 L1134.53 134.47 L1136.31 134.25 L1138.08 134.09 L1139.85 134.35 L1141.62 134.4" fill="none" stroke="#c82c2c" stroke-width="1.3" stroke-linejoin="round" transform="scale(0.8,1.25)"/>
<path d="M651.88 148.4 L653.63 148.4 L655.38 148.4 L657.13 148.4 L658.89 148.4 L660.64 148.4 L662.39 148.4 L664.14 148.4 L665.9 148.4 L667.65 148.4 L669.4 148.4 L671.15 148.4 L672.91 148.4 L674.66 148.4 L676.41 148.4 L678.16 148.4 L679.92 148.4 L681.67 148.4 L683.42 148.4 L685.17 148.4 L686.93 148.4 L688.68 148.4 L690.43 148.4 L692.19 148.4 L693.94 148.4 L695.69 148.4 L697.44 148.4 L699.2 148.4 L700.95 148.4 L702.7 148.4 L704.45 148.4 L706.21 148.4 L707.96 148.4 L709.71 148.4 L711.46 148.4 L713.22 148.4 L714.97 148.4 L716.72 148.4 L718.47 148.4 L720.23 148.4 L721.98 148.4 L723.73 148.4 L725.49 148.4 L727.24 148.4 L728.99 148.4 L730.74 148.4 L732.5 148.4 L734.25 148.4 L736 148.4 L737.75 148.4 L739.51 148.4 L741.26 148.4 L743.01 148.4 L744.76 148.4 L746.52 148.4 L748.27 148.4 L750.02 148.4 L751.77 148.4 L753.53 148.4 L755.28 148.4 L757.03 148.4 L758.78 148.4 L760.54 148.4 L762.29 148.4 L764.04 148.4 L765.8 148.4 L767.55 148.4 L769.3 148.4 L771.05 148.4 L772.81 148.4 L774.56 148.4 L776.31 148.4 L778.06 148.4 L779.82 148.4 L781.57 148.4 L783.32 148.4 L785.07 148.4 L786.83 148.4 L788.58 148.4 L790.33 148.4 L792.08 148.4 L793.84 148.4 L795.59 148.4 L797.34 148.4 L799.1 148.4 L800.85 148.4 L802.6 148.4 L804.35 148.4 L806.11 148.4 L807.86 148.4 L809.61 148.4 L811.36 148.4 L813.12 148.4 L814.87 148.4 L816.62 148.4 L818.37 148.4 L820.13 148.4 L821.88 148.4 L823.63 148.4 L825.38 148.4 L827.14 148.4 L828.89 148.4 L830.64 148.4 L832.4 148.4 L834.15 148.4 L835.9 148.4 L837.65 148.4 L839.41 148.4 L841.16 148.4 L842.91 148.4 L844.66 148.4 L846.42 148.4 L848.17 148.4 L849.92 148.4 L851.67 148.4 L853.43 148.4 L855.18 148.4 L856.93 148.4 L858.68 148.4 L860.44 148.4 L862.19 148.4 L863.94 148.4 L865.69 148.4 L867.45 148.4 L869.2 148.4 L870.95 148.4 L872.71 148.4 L874.46 148.4 L876.21 148.4 L877.96 148.4 L879.72 148.4 L881.47 148.4 L883.22 148.4 L884.97 148.4 L886.73 148.4 L888.48 148.4 L890.23 148.4 L891.98 148.4 L893.74 148.4 L895.49 148.4 L897.24 148.4 L898.99 148.4 L900.75 148.4 L902.5 148.4 L903.88 148.18 L905.25 147.84 L906.88 143.63 L908.5 140.8 L910 139.84 L911.5 139.43 L913 138.64 L914.62 140.21 L916.25 142.16 L918.44 139.39 L920.62 136.56 L922.12 135.89 L923.62 134.95 L925.12 133.68 L926.75 132.64 L928.38 130.88 L930.06 131.84 L931.75 132.32 L933.44 127.96 L935.12 123.84 L936.62 126.35 L938.12 128.88 L939.62 120.89 L941.12 113.12 L942.56 112.07 L944 111.28 L946 107.52 L947.5 112.77 L949 118.16 L950.44 119.39 L951.88 122 L953.38 119.35 L954.87 116.96 L956.31 117.55 L957.75 118.16 L959.25 115.57 L960.75 113.76 L962.19 115.95 L963.62 118.16 L965.12 112.73 L966.62 106.88 L968.56 109.01 L970.5 111.28 L972 107.39 L973.5 101.84 L975.75 90.32 L977.25 88 L978.75 87.76 L980.25 88.96 L981.75 90.32 L983.69 88.63 L985.62 88.4 L987.12 89.75 L988.62 90.32 L990.06 89.78 L991.5 87.12 L993 87.08 L994.5 89.04 L996.44 90.05 L998.38 90.96 L1000.38 91.38 L1002.37 91.27 L1004.38 91.6 L1006.31 92.6 L1008.25 92.26 L1010.19 94.28 L1012.12 94.72 L1014.09 95.03 L1016.06 95.05 L1018.03 94.96 L1020 95.36 L1022 95.83 L1024 95.59 L1026 96 L1027.96 96.49 L1029.92 96.6 L1031.88 97.2 L1033.6 96.32 L1035.32 97.22 L1037.05 97.33 L1038.77 97.57 L1040.5 97.28 L1042.25 97.15 L1044 97.71 L1045.75 98.2 L1047.5 98.23 L1049.25 98.4 L1051.02 99.04 L1052.8 99.48 L1054.57 98.47 L1056.35 98.21 L1058.12 99.12 L1059.9 99.81 L1061.67 100.44 L1063.45 100.54 L1065.22 100.85 L1067 100.88 L1068.66 101.25 L1070.31 101.83 L1071.97 103.1 L1073.62 103.36 L1075.46 103.93 L1077.29 104.5 L1079.12 106.16 L1080.56 107.88 L1082 110.4 L1083.31 108.56 L1084.62 104.72 L1086.31 106.93 L1088 107.6 L1089.62 109.09 L1091.25 111.12 L1093.44 113.63 L1095.62 116.72 L1097.12 116.12 L1098.62 115.03 L1100.12 114.64 L1102.31 118 L1104.5 120.32 L1106.19 121.33 L1107.87 122.4 L1110 118.16 L1111.69 121.25 L1113.38 125.2 L1115 127.16 L1116.62 128.08 L1118.31 126.09 L1120 124.56 L1121.62 127.45 L1123.25 130.16 L1124.75 127.57 L1126.25 124.86 L1127.75 122.4 L1129.88 131.6 L1131.38 130.32 L1132.87 128.5 L1134.38 127.36 L1136.56 128.02 L1138.75 130.16 L1140.19 128.92 L1141.62 129.44" fill="none" stroke="#2a2592" stroke-width="1.3" stroke-linejoin="round" transform="scale(0.8,1.25)"/>
<path d="M651.88 148.4 L653.63 148.4 L655.38 148.4 L657.13 148.4 L658.88 148.4 L660.63 148.4 L662.38 148.4 L664.13 148.4 L665.88 148.4 L667.63 148.4 L669.38 148.4 L671.13 148.4 L672.89 148.4 L674.64 148.4 L676.39 148.4 L678.14 148.4 L679.89 148.4 L681.64 148.4 L683.39 148.4 L685.14 148.4 L686.89 148.4 L688.64 148.4 L690.39 148.4 L692.14 148.4 L693.9 148.4 L695.65 148.4 L697.4 148.4 L699.15 148.4 L700.9 148.4 L702.65 148.4 L704.4 148.4 L706.15 148.4 L707.9 148.4 L709.65 148.4 L711.4 148.4 L713.15 148.4 L714.91 148.4 L716.66 148.4 L718.41 148.4 L720.16 148.4 L721.91 148.4 L723.66 148.4 L725.41 148.4 L727.16 148.4 L728.91 148.4 L730.66 148.4 L732.41 148.4 L734.17 148.4 L735.92 148.4 L737.67 148.4 L739.42 148.4 L741.17 148.4 L742.92 148.4 L744.67 148.4 L746.42 148.4 L748.17 148.4 L749.92 148.4 L751.67 148.4 L753.42 148.4 L755.18 148.4 L756.93 148.4 L758.68 148.4 L760.43 148.4 L762.18 148.4 L763.93 148.4 L765.68 148.4 L767.43 148.4 L769.18 148.4 L770.93 148.4 L772.68 148.4 L774.43 148.4 L776.19 148.4 L777.94 148.4 L779.69 148.4 L781.44 148.4 L783.19 148.4 L784.94 148.4 L786.69 148.4 L788.44 148.4 L790.19 148.4 L791.94 148.4 L793.69 148.4 L795.45 148.4 L797.2 148.4 L798.95 148.4 L800.7 148.4 L802.45 148.4 L804.2 148.4 L805.95 148.4 L807.7 148.4 L809.45 148.4 L811.2 148.4 L812.95 148.4 L814.7 148.4 L816.46 148.4 L818.21 148.4 L819.96 148.4 L821.71 148.4 L823.46 148.4 L825.21 148.4 L826.96 148.4 L828.71 148.4 L830.46 148.4 L832.21 148.4 L833.96 148.4 L835.71 148.4 L837.47 148.4 L839.22 148.4 L840.97 148.4 L842.72 148.4 L844.47 148.4 L846.22 148.4 L847.97 148.4 L849.72 148.4 L851.47 148.4 L853.22 148.4 L854.97 148.4 L856.73 148.4 L858.48 148.4 L860.23 148.4 L861.98 148.4 L863.73 148.4 L865.48 148.4 L867.23 148.4 L868.98 148.4 L870.73 148.4 L872.48 148.4 L874.23 148.4 L875.98 148.4 L877.74 148.4 L879.49 148.4 L881.24 148.4 L882.99 148.4 L884.74 148.4 L886.49 148.4 L888.24 148.4 L889.99 148.4 L891.74 148.4 L893.49 148.4 L895.24 148.4 L896.99 148.4 L898.75 148.4 L900.5 148.4 L902.25 148.4 L904 148.4 L905.75 148.4 L907.5 148.4 L909.25 146.98 L911 146.21 L912.75 145.51 L914.5 144.58 L916.25 143.6 L918.02 143.24 L919.8 142.52 L921.57 141.63 L923.35 141.1 L925.12 140.8 L926.78 139.68 L928.44 140.02 L930.09 139.89 L931.75 139.36 L933.94 138.15 L936.12 136.56 L938.12 133.64 L940.12 130.8 L941.75 130.1 L943.38 129.86 L945 128.88 L946.5 130.45 L948 132 L949.44 134.79 L950.88 137.04 L952.38 138.21 L953.88 138.96 L955.5 138.18 L957.12 137.72 L958.75 136.4 L960.37 136.19 L962 136.27 L963.62 136.4 L965.62 134.55 L967.62 133.28 L969.25 132.17 L970.88 132.19 L972.5 130.8 L974.5 127.03 L976.5 122 L978.44 120.41 L980.37 118.8 L982 117.75 L983.62 116.72 L985.25 115.04 L986.92 113.22 L988.58 111.26 L990.25 108.72 L992.19 107.67 L994.12 107.52 L995.75 107.9 L997.37 108.91 L999 109.36 L1000.67 109.05 L1002.33 107.74 L1004 106.88 L1005.62 106.57 L1007.25 106.75 L1008.88 106.88 L1010.5 107.9 L1012.12 109.08 L1013.75 110.64 L1015.75 109.94 L1017.75 108.16 L1019.69 106.65 L1021.62 105.6 L1023.62 106.57 L1025.62 107.52 L1027.28 108.31 L1028.92 107.98 L1030.58 107.69 L1032.22 107.36 L1033.88 107.6 L1035.53 107.39 L1037.19 107.46 L1038.84 106.74 L1040.5 106.16 L1042.16 106.79 L1043.81 106.56 L1045.47 106.89 L1047.12 106.88 L1048.88 106.38 L1050.62 106.17 L1052.38 106.05 L1054.12 104.64 L1055.88 104.72 L1057.65 104.84 L1059.42 105.09 L1061.2 104.95 L1062.97 105.19 L1064.75 105.44 L1066.69 105.9 L1068.62 106.52 L1070.56 106.21 L1072.5 106.16 L1074.44 105.74 L1076.38 104.52 L1078.31 105.23 L1080.25 104 L1081.91 104.57 L1083.56 105.07 L1085.22 105.22 L1086.88 106.16 L1088.53 105.26 L1090.19 104.01 L1091.84 103.55 L1093.5 102.64 L1095.25 102.74 L1097 102.52 L1098.75 102.55 L1100.5 102.08 L1102.25 102.32 L1103.91 102.97 L1105.56 102.36 L1107.22 102.09 L1108.88 102.88 L1110.53 103.27 L1112.19 103.53 L1113.84 103.9 L1115.5 104.72 L1117.16 104.25 L1118.81 104.14 L1120.47 103.27 L1122.12 103.36 L1124 103.52 L1125.88 104.3 L1127.75 104 L1129.38 106.73 L1131 108.96 L1132.69 107.15 L1134.38 105.44 L1136 107.97 L1137.62 110.4 L1139.62 111.08 L1141.62 111.84" fill="none" stroke="#277f38" stroke-width="1.3" stroke-linejoin="round" transform="scale(0.8,1.25)"/>
<path d="M83.75 322.88 L85.54 322.75 L87.33 322.85 L89.12 322.49 L90.92 321.73 L92.71 322.27 L94.5 322.16 L96.27 321.78 L98.05 322.09 L99.82 321.61 L101.6 321.69 L103.38 321.52 L105.12 322.13 L106.88 321.23 L108.62 321.21 L110.37 321.12 L112.12 321.52 L113.62 321.3 L115.12 321.9 L116.62 322.88 L118.81 322.3 L121 321.52 L122.66 321.34 L124.31 321 L125.97 321.1 L127.62 321.69 L129.28 321.3 L130.94 321.42 L132.59 321.61 L134.25 321.52 L136.08 321.82 L137.92 321.9 L139.75 321.57 L141.58 321.24 L143.42 321.17 L145.25 321.04 L147.1 321.38 L148.96 321.12 L150.81 320.47 L152.67 320.53 L154.52 320.32 L156.37 320.08 L158.12 319.95 L159.87 319.65 L161.62 319.28 L163.37 319.35 L165.12 319.36 L166.62 318.55 L168.12 318.96 L169.62 318.24 L171.46 318.3 L173.29 317.72 L175.12 318.35 L176.96 318.12 L178.79 317.24 L180.62 317.68 L182.46 318.05 L184.29 317.61 L186.12 317.82 L187.96 316.75 L189.79 317.1 L191.62 316.8 L193.4 316.81 L195.18 316.63 L196.95 316.51 L198.73 316.65 L200.5 316.24 L202.42 315.12 L204.33 314.84 L206.25 315.04 L208.06 314.37 L209.88 315.04 L211.5 314.51 L213.12 314.22 L214.75 314.42 L216.37 314.1 L218 313.72 L219.62 313.44 L221.47 312.54 L223.31 312.07 L225.16 312.16 L227 311.12 L228.62 311.22 L230.25 310.64 L231.88 310.32 L233.54 309.63 L235.21 310 L236.88 308.72 L238.5 307.93 L240.12 308.02 L241.75 307.2 L243.38 308.02 L245 307.61 L246.62 308 L248.5 306.8 L250.38 306 L252.19 310.1 L254 315.44 L255.87 309.73 L257.75 302.88 L259.56 299.47 L261.38 295.84 L263.25 295.31 L265.12 296.56 L266.94 295.77 L268.75 294.24 L271.25 298.96 L273.06 293.34 L274.88 288.72 L276.75 288.28 L278.62 286.4 L281 286.4 L282.62 291.54 L284.25 297.44 L286.88 293.44 L289 291.44 L291.25 294.24 L293.75 296.24 L295.12 294.35 L296.5 292.64 L298.5 295.84 L300.5 291.84 L301.88 294.4 L303.25 296.64 L305.25 291.84 L307.25 296.64 L308.62 294.25 L310 292.24 L312 296.24 L314 293.44 L316 297.44 L317.75 293.84 L320 295.84 L321.31 294.87 L322.62 293.6 L324.62 293.5 L326.62 294.4 L328.62 294.24 L330.58 293.63 L332.54 293.13 L334.5 292.4 L336.44 290.54 L338.37 291.76 L340.33 291.77 L342.29 290.5 L344.25 289.84 L346.25 289.16 L348.25 290.48 L350.19 289.29 L352.12 288 L353.75 281.68 L356.12 286.08 L357.56 285.38 L359 284.16 L360.5 287.28 L362 289.2 L363.94 285.15 L365.87 282.32 L367.87 285.39 L369.87 286.72 L371.83 287.27 L373.79 289.34 L375.75 288.64 L377.71 288.74 L379.67 289.39 L381.62 289.2 L383.25 287.74 L384.87 286.07 L386.5 285.44 L388.17 287.52 L389.83 288.88 L391.5 289.84 L393.44 289.46 L395.38 287.36 L397.37 288.76 L399.38 289.2 L401.33 288.88 L403.29 288.27 L405.25 289.2 L406.69 286.32 L408.12 284.16 L409.62 285.7 L411.12 288 L413.06 284.06 L415 281.04 L416.5 282.65 L418 283.6 L419.5 281.58 L421 279.2 L422.94 281.85 L424.87 284.8 L426.38 281.78 L427.88 278.56 L429.31 282.88 L430.75 287.36 L432.25 284.28 L433.75 281.6 L435.44 281.42 L437.12 280.4 L439.12 282.5 L441.12 283.52 L443.08 281.88 L445.04 280.17 L447 279.76 L448.94 282.16 L450.87 282.96 L452.83 282.38 L454.79 282.3 L456.75 281.04 L458.75 281.08 L460.75 282.96 L462.71 281.5 L464.67 280.42 L466.62 279.12 L468.56 278.95 L470.5 280.4 L472.5 282.63 L474.5 285.44 L476.44 284.52 L478.37 284.96 L480.37 284.94 L482.37 284.32 L484.31 286.33 L486.25 287.44 L488.21 287.2 L490.17 287.05 L492.12 287.44 L494.12 288.31 L496.12 289.14 L498.12 289.6 L500.08 289.65 L502.04 289.24 L504 289.6 L505.96 290.57 L507.92 291.32 L509.87 291.84 L511.83 292.85 L513.79 293.41 L515.75 294.4 L517.72 295.11 L519.69 295.86 L521.66 296.1 L523.62 296.88 L525.58 297 L527.54 298.65 L529.5 299.6 L531.46 299.55 L533.42 299.23 L535.38 299.04 L536.88 297.09 L538.38 294.64 L539.87 296.68 L541.38 299.04 L543.31 299.94 L545.25 300.88 L547.19 302.07 L549.12 303.44 L551.12 300.88 L552.62 302.6 L554.12 304 L555.56 302.25 L557 299.6 L559 301.13 L561 302.8 L562.94 303.7 L564.87 303.44 L566.38 304.15 L567.88 304 L569.75 307.2 L571.75 307.1 L573.75 306.56" fill="none" stroke="#111111" stroke-width="1.3" stroke-linejoin="round" transform="scale(0.8,1.25)"/>
<path d="M83.75 322.64 L85.54 322.68 L87.33 322.9 L89.12 322.23 L90.92 322.13 L92.71 321.74 L94.5 321.92 L96.27 321.92 L98.05 322.04 L99.82 321.69 L101.6 321.53 L103.38 321.28 L105.12 321.22 L106.88 321.33 L108.62 320.88 L110.37 321.57 L112.12 321.28 L113.62 321.62 L115.12 321.88 L116.62 322.64 L118.81 321.75 L121 321.28 L122.66 321.05 L124.31 321.52 L125.97 321.58 L127.62 320.9 L129.28 321.54 L130.94 321.53 L132.59 321.12 L134.25 321.28 L136.08 320.78 L137.92 320.91 L139.75 320.86 L141.58 321.06 L143.42 320.78 L145.25 320.8 L147.1 320.07 L148.96 320.55 L150.81 319.89 L152.67 320.41 L154.52 319.66 L156.37 319.84 L158.12 319.5 L159.87 319.31 L161.62 319.26 L163.37 319.63 L165.12 319.12 L166.62 318.99 L168.12 318.54 L169.62 318 L171.46 318 L173.29 317.38 L175.12 317.57 L176.96 317.47 L178.79 317.26 L180.62 317.44 L182.46 317.44 L184.29 316.94 L186.12 316.8 L187.96 316.56 L189.79 316.13 L191.62 316.56 L193.4 316.61 L195.18 316.71 L196.95 316.27 L198.73 315.84 L200.5 316 L202.42 314.3 L204.33 315.28 L206.25 314.8 L208.06 315.38 L209.88 314.8 L211.5 314.68 L213.12 314.71 L214.75 314.71 L216.37 314.27 L218 313.25 L219.62 313.2 L221.47 313.13 L223.31 312.41 L225.16 310.72 L227 310.88 L228.62 310.42 L230.25 309.66 L231.88 310.08 L233.54 309.49 L235.21 309.29 L236.88 308.48 L238.5 307.46 L240.12 306.48 L241.75 306.96 L243.38 307.85 L245 307.67 L246.62 307.76 L248.5 306.87 L250.38 304.56 L252.19 308.54 L254 314 L255.87 308.31 L257.75 301.44 L259.56 299.08 L261.38 294.4 L263.25 295.88 L265.12 295.12 L266.94 293.84 L268.75 292.8 L271.25 297.52 L273.06 292.55 L274.88 287.28 L276.75 286.03 L278.62 284.96 L281 284.96 L282.62 291.04 L284.25 296 L286.88 292 L289 290 L291.25 292.8 L293.75 294.8 L295.12 293.58 L296.5 291.2 L298.5 294.4 L300.5 290.4 L301.88 292.85 L303.25 295.2 L305.25 290.4 L307.25 295.2 L308.62 292.24 L310 290.8 L312 294.8 L314 290.4 L316 294.4 L317.75 290.8 L320 292.8 L321.31 292.1 L322.62 290.56 L324.62 290.51 L326.62 291.34 L328.62 291.2 L330.58 290.73 L332.54 290.88 L334.5 289.36 L336.44 289.68 L338.37 288.72 L340.33 287.83 L342.29 287.64 L344.25 286.8 L346.25 288.11 L348.25 287.44 L350.19 285.9 L352.12 284.96 L353.75 278.64 L356.12 283.04 L357.56 282.32 L359 281.12 L360.5 284.31 L362 286.16 L363.94 283.42 L365.87 279.28 L367.87 281.77 L369.87 283.68 L371.83 283.58 L373.79 284.25 L375.75 285.6 L377.71 285.93 L379.67 286.19 L381.62 286.16 L383.25 286.33 L384.87 283.17 L386.5 282.4 L388.17 284.5 L389.83 285.76 L391.5 286.8 L393.44 284.62 L395.38 284.32 L397.37 284.78 L399.38 286.16 L401.33 286.25 L403.29 285.88 L405.25 286.16 L406.69 283.55 L408.12 281.12 L409.62 283.3 L411.12 284.96 L413.06 281.03 L415 278 L416.5 279.54 L418 280.56 L419.5 278 L421 276.16 L422.94 278.65 L424.87 281.76 L426.38 278.94 L427.88 275.52 L429.31 279.6 L430.75 284.32 L432.25 281.92 L433.75 279.2 L435.44 279.5 L437.12 278 L439.12 279.58 L441.12 281.12 L443.08 279.78 L445.04 279.03 L447 277.36 L448.94 278.76 L450.87 280.56 L452.83 280.53 L454.79 278.56 L456.75 278.64 L458.75 279.95 L460.75 280.56 L462.71 278.99 L464.67 277.55 L466.62 276.72 L468.56 278.35 L470.5 278 L472.5 280.04 L474.5 283.04 L476.44 284.17 L478.37 284.32 L480.37 284.18 L482.37 283.68 L484.31 285.65 L486.25 286.8 L488.21 286.53 L490.17 287.14 L492.12 286.8 L494.12 287.93 L496.12 288.21 L498.12 288.96 L500.08 288.92 L502.04 289.65 L504 288.96 L505.96 289.76 L507.92 290.34 L509.87 291.2 L511.83 291.88 L513.79 293.03 L515.75 293.76 L517.72 294.47 L519.69 295.05 L521.66 296.1 L523.62 296.24 L525.58 297.19 L527.54 298.45 L529.5 299.36 L531.46 299.58 L533.42 298.71 L535.38 298.8 L536.88 296.89 L538.38 294.4 L539.87 297.11 L541.38 298.8 L543.31 299.34 L545.25 300.64 L547.19 301.61 L549.12 303.2 L551.12 300.64 L552.62 301.91 L554.12 303.76 L555.56 301.04 L557 299.36 L559 301.09 L561 302.56 L562.94 302.36 L564.87 303.2 L566.38 303.62 L567.88 303.76 L569.75 306.96 L571.75 307.05 L573.75 306.32" fill="none" stroke="#c82c2c" stroke-width="1.3" stroke-linejoin="round" transform="scale(0.8,1.25)"/>
<path d="M83.75 323.44 L85.51 323.24 L87.27 323.4 L89.03 323.2 L90.8 323.52 L92.56 323.34 L94.32 323.39 L96.08 323.43 L97.84 323.49 L99.6 323.38 L101.36 323.42 L103.12 323.35 L104.89 323.42 L106.65 323.27 L108.41 323.41 L110.17 323.17 L111.93 323.34 L113.69 323.63 L115.45 323.41 L117.22 323.24 L118.98 323.42 L120.74 323.27 L122.5 323.19 L124.26 323.3 L126.02 323.47 L127.78 323.43 L129.55 323.37 L131.31 323.26 L133.07 323.24 L134.83 323.53 L136.59 323.4 L138.35 323.25 L140.11 323.11 L141.88 323.2 L143.64 323.65 L145.4 323.22 L147.16 323.34 L148.92 323.38 L150.68 323.33 L152.44 323.31 L154.2 323.18 L155.97 323.21 L157.73 323.54 L159.49 323.24 L161.25 323.43 L163.01 323.13 L164.77 323.3 L166.53 323.36 L168.3 323.45 L170.06 323.19 L171.82 323.39 L173.58 323.36 L175.34 323.23 L177.1 323.37 L178.86 323.2 L180.62 323.21 L182.39 323.3 L184.15 322.98 L185.91 323.29 L187.67 323.18 L189.43 323.12 L191.19 323.24 L192.95 323.38 L194.72 323.24 L196.48 323.44 L198.24 323.14 L200 323.28 L201.76 323.12 L203.52 323.45 L205.27 323.31 L207.03 323.36 L208.79 323.14 L210.55 323.33 L212.3 323.26 L214.06 323.3 L215.82 323.22 L217.58 323.35 L219.34 323.12 L221.09 323.07 L222.85 323.01 L224.61 323.31 L226.37 323.08 L228.12 323.03 L229.88 323.04 L231.64 323.09 L233.4 322.98 L235.16 323.1 L236.91 323.05 L238.67 323.05 L240.43 322.99 L242.19 323.1 L243.95 323.04 L245.7 323.1 L247.46 323.11 L249.22 323.11 L250.98 322.8 L252.73 322.99 L254.49 322.95 L256.25 323.13 L258.01 322.84 L259.77 322.94 L261.52 322.98 L263.28 322.97 L265.04 323.12 L266.8 322.94 L268.55 323.1 L270.31 322.8 L272.07 322.76 L273.83 323.11 L275.59 323.01 L277.34 323.01 L279.1 322.96 L280.86 322.99 L282.62 322.78 L284.38 323.03 L286.13 322.85 L287.89 323.02 L289.65 322.91 L291.41 322.65 L293.16 322.73 L294.92 323.01 L296.68 322.85 L298.44 322.81 L300.2 322.88 L301.95 322.79 L303.71 322.77 L305.47 322.84 L307.23 322.84 L308.98 323 L310.74 322.81 L312.5 322.8 L314.26 323.01 L316.02 322.99 L317.78 322.97 L319.54 322.88 L321.3 322.76 L323.06 322.75 L324.82 322.7 L326.58 322.62 L328.34 322.69 L330.1 322.61 L331.86 322.87 L333.62 322.72 L335.39 322.59 L337.15 322.41 L338.91 322.62 L340.67 322.56 L342.43 322.47 L344.19 322.45 L345.95 322.31 L347.71 322.63 L349.47 322.55 L351.23 322.85 L352.99 322.53 L354.75 322.5 L356.51 322.68 L358.27 322.51 L360.03 322.51 L361.79 322.43 L363.55 322.39 L365.31 322.63 L367.07 322.56 L368.83 322.63 L370.59 322.37 L372.35 322.41 L374.11 322.29 L375.88 322.5 L377.64 322.2 L379.4 322.42 L381.16 322.48 L382.92 322.5 L384.68 322.21 L386.44 322.44 L388.2 322.21 L389.96 322.2 L391.72 322.12 L393.48 322.4 L395.24 322.45 L397 322.24 L398.76 322.16 L400.52 322.13 L402.27 322.17 L404.03 322.5 L405.79 322.31 L407.55 322.11 L409.3 321.95 L411.06 322.08 L412.82 322.29 L414.58 322.36 L416.34 322.1 L418.09 322.04 L419.85 322.05 L421.61 321.87 L423.37 322.2 L425.12 321.95 L426.88 322.2 L428.64 321.86 L430.4 321.9 L432.16 322.07 L433.91 321.94 L435.67 322.11 L437.43 322.01 L439.19 321.86 L440.95 322.06 L442.7 322.08 L444.46 321.74 L446.22 322.18 L447.98 322.01 L449.73 322.03 L451.49 321.71 L453.25 321.83 L455.01 321.87 L456.77 322.03 L458.52 321.71 L460.28 321.77 L462.04 321.63 L463.8 321.83 L465.55 321.89 L467.31 321.64 L469.07 321.76 L470.83 321.88 L472.59 322 L474.34 321.88 L476.1 321.75 L477.86 321.64 L479.62 321.66 L481.38 321.76 L483.14 321.66 L484.9 321.74 L486.66 321.69 L488.42 321.88 L490.18 321.69 L491.95 321.51 L493.71 321.81 L495.47 321.71 L497.23 321.59 L498.99 321.47 L500.75 321.32 L502.52 321.4 L504.28 321.61 L506.04 321.38 L507.8 321.3 L509.56 321.46 L511.32 321.45 L513.09 321.47 L514.85 321.46 L516.61 321.53 L518.37 321.24 L520.13 321.44 L521.89 321.18 L523.66 321.36 L525.42 321.28 L527.18 321.27 L528.94 321.34 L530.7 321.2 L532.46 321.31 L534.23 321.27 L535.99 321.16 L537.75 321.12 L539.46 320.99 L541.18 320.91 L542.89 320.87 L544.61 320.85 L546.32 320.81 L548.04 321.11 L549.75 320.77 L551.46 320.72 L553.18 320.47 L554.89 320.43 L556.61 320.41 L558.32 320.41 L560.04 320.2 L561.75 320.46 L563.46 320.14 L565.18 320.27 L566.89 319.8 L568.61 320.02 L570.32 320 L572.04 319.92 L573.75 319.84" fill="none" stroke="#277f38" stroke-width="1.3" stroke-linejoin="round" transform="scale(0.8,1.25)"/>
<path d="M83.75 322.64 L85.55 322.76 L87.34 322.7 L89.14 322.67 L90.94 322.26 L92.73 322.5 L94.53 322.17 L96.33 322.77 L98.12 322.7 L99.92 322.6 L101.72 322.48 L103.52 322.52 L105.31 323.01 L107.11 322.99 L108.91 322.63 L110.7 322.9 L112.5 322.64 L114.56 322.8 L116.62 323.6 L118.31 322.73 L120 322.64 L121.74 322.53 L123.48 322.44 L125.22 322.49 L126.96 322.63 L128.7 323.18 L130.43 322.43 L132.17 322.56 L133.91 322.6 L135.65 322.52 L137.39 322.7 L139.13 322.86 L140.87 322.25 L142.61 322.51 L144.35 322.42 L146.09 322.53 L147.83 322.14 L149.57 322.08 L151.3 321.96 L153.04 322.51 L154.78 322.43 L156.52 322.4 L158.26 321.9 L160 322.29 L161.74 322.2 L163.48 322.05 L165.22 322.14 L166.96 322.45 L168.7 322.41 L170.43 322.28 L172.17 322.38 L173.91 322.14 L175.65 322.26 L177.39 322.25 L179.13 322.34 L180.87 322.2 L182.61 322.17 L184.35 322.16 L186.09 322.05 L187.83 322.61 L189.57 322.26 L191.3 322.23 L193.04 322.59 L194.78 322.4 L196.52 321.79 L198.26 322.23 L200 322.08 L201.72 322.24 L203.45 322.44 L205.17 322.32 L206.9 322.2 L208.62 321.8 L210.34 321.86 L212.07 322.08 L213.79 322.11 L215.52 321.8 L217.24 321.92 L218.97 321.91 L220.69 321.99 L222.41 322.04 L224.14 321.91 L225.86 321.71 L227.59 322.2 L229.31 322.26 L231.03 321.91 L232.76 322.13 L234.48 322 L236.21 322.04 L237.93 321.99 L239.66 321.74 L241.38 322 L243.1 322.08 L244.83 321.69 L246.55 322.25 L248.28 322.27 L250 321.84 L251.74 322.18 L253.47 322.2 L255.21 321.93 L256.94 321.69 L258.68 321.62 L260.42 321.56 L262.15 321.72 L263.89 321.67 L265.62 321.79 L267.36 321.24 L269.1 322.08 L270.83 322.06 L272.57 321.57 L274.31 321.7 L276.04 321.64 L277.78 321.57 L279.51 321.46 L281.25 321.46 L282.99 321.3 L284.72 321.48 L286.46 321.42 L288.19 321.46 L289.93 321.21 L291.67 321.37 L293.4 321.35 L295.14 321.44 L296.88 321.09 L298.61 321.36 L300.35 321.46 L302.08 321.36 L303.82 321.15 L305.56 321.1 L307.29 321.13 L309.03 321.31 L310.76 321.45 L312.5 321.12 L314.26 321.06 L316.02 320.93 L317.78 321.11 L319.54 321.04 L321.3 320.79 L323.06 320.79 L324.82 320.89 L326.58 321.01 L328.34 320.61 L330.1 320.62 L331.86 320.89 L333.62 320.52 L335.39 320.75 L337.15 320.77 L338.91 320.65 L340.67 320.44 L342.43 320.6 L344.19 320.51 L345.95 320.62 L347.71 320.35 L349.47 320.71 L351.23 320.12 L352.99 320.39 L354.75 320.4 L356.51 320.39 L358.27 320.58 L360.03 320.26 L361.79 320.48 L363.55 320.25 L365.31 320.51 L367.07 320.7 L368.83 320.27 L370.59 320.43 L372.35 320.15 L374.11 320.52 L375.88 320.56 L377.64 320.32 L379.4 320.08 L381.16 320.38 L382.92 320.52 L384.68 320.5 L386.44 320.44 L388.2 319.91 L389.96 320.13 L391.72 320.54 L393.48 320.01 L395.24 320.47 L397 320.24 L398.76 320.62 L400.51 320.41 L402.27 320.48 L404.02 320.2 L405.78 320.03 L407.53 320.26 L409.29 320.25 L411.04 320.28 L412.8 320.44 L414.55 320.28 L416.31 320.35 L418.06 320.4 L419.82 320.33 L421.57 320.7 L423.33 320.43 L425.08 320.36 L426.84 320.31 L428.59 320.23 L430.35 320.64 L432.1 320.4 L433.86 320.16 L435.61 320.27 L437.37 320.37 L439.12 320.4 L440.87 320.28 L442.61 320.55 L444.35 320.07 L446.1 320.37 L447.84 320.27 L449.58 319.98 L451.33 320.19 L453.07 320.13 L454.81 320.22 L456.56 320 L458.3 320.12 L460.04 319.69 L461.78 319.78 L463.53 320.12 L465.27 320.14 L467.01 319.9 L468.76 319.75 L470.5 319.84 L472.15 319.88 L473.79 319.07 L475.44 319.16 L477.08 319.28 L478.73 319.1 L480.38 318.8 L482.03 318.41 L483.69 318.06 L485.34 318.55 L487 318.08 L488.73 318.05 L490.46 317.78 L492.19 317.91 L493.92 318.01 L495.65 317.25 L497.38 317.93 L499.12 317.8 L500.85 317.17 L502.58 317.68 L504.31 317.11 L506.04 317.63 L507.77 317.42 L509.5 317.28 L511.2 317.71 L512.9 317.13 L514.6 317.23 L516.3 317.43 L518 317.07 L519.7 317.04 L521.4 317.09 L523.1 317.14 L524.8 316.92 L526.5 317.12 L528.5 316.52 L530.5 315.84 L532.5 315.04 L534.27 315.07 L536.05 315.41 L537.82 315.02 L539.6 315.37 L541.38 315.12 L543.1 314.96 L544.83 315.16 L546.56 314.57 L548.29 314.95 L550.02 314.82 L551.75 314.8 L553.5 314.73 L555.25 314.73 L557 314.88 L558.97 314.55 L560.94 314.22 L562.91 313.66 L564.87 313.84 L566.81 314.36 L568.75 315.12 L570.42 314.66 L572.08 314.32 L573.75 314.08" fill="none" stroke="#2a2592" stroke-width="1.3" stroke-linejoin="round" transform="scale(0.8,1.25)"/>
<path d="M651.88 341.92 L653.63 341.92 L655.38 341.92 L657.13 341.92 L658.88 341.92 L660.63 341.92 L662.38 341.92 L664.13 341.93 L665.88 341.93 L667.64 341.93 L669.39 341.93 L671.14 341.93 L672.89 341.93 L674.64 341.93 L676.39 341.93 L678.14 341.93 L679.89 341.93 L681.65 341.93 L683.4 341.93 L685.15 341.93 L686.9 341.94 L688.65 341.94 L690.4 341.94 L692.15 341.94 L693.9 341.94 L695.65 341.94 L697.41 341.94 L699.16 341.94 L700.91 341.94 L702.66 341.94 L704.41 341.94 L706.16 341.94 L707.91 341.94 L709.66 341.94 L711.42 341.95 L713.17 341.95 L714.92 341.95 L716.67 341.95 L718.42 341.95 L720.17 341.95 L721.92 341.95 L723.67 341.95 L725.42 341.95 L727.18 341.95 L728.93 341.95 L730.68 341.95 L732.43 341.95 L734.18 341.96 L735.93 341.96 L737.68 341.96 L739.43 341.96 L741.19 341.96 L742.94 341.96 L744.69 341.96 L746.44 341.96 L748.19 341.96 L749.94 341.96 L751.69 341.96 L753.44 341.96 L755.19 341.96 L756.95 341.97 L758.7 341.97 L760.45 341.97 L762.2 341.97 L763.95 341.97 L765.7 341.97 L767.45 341.97 L769.2 341.97 L770.96 341.97 L772.71 341.97 L774.46 341.97 L776.21 341.97 L777.96 341.97 L779.71 341.98 L781.46 341.98 L783.21 341.98 L784.96 341.98 L786.72 341.98 L788.47 341.98 L790.22 341.98 L791.97 341.98 L793.72 341.98 L795.47 341.98 L797.22 341.98 L798.97 341.98 L800.73 341.98 L802.48 341.98 L804.23 341.99 L805.98 341.99 L807.73 341.99 L809.48 341.99 L811.23 341.99 L812.98 341.99 L814.73 341.99 L816.49 341.99 L818.24 341.99 L819.99 341.99 L821.74 341.99 L823.49 341.99 L825.24 341.99 L826.99 342 L828.74 342 L830.5 342 L832.25 342 L834 342 L835.75 342 L837.5 342 L838.88 342.24 L840.25 342.48 L841.83 339.27 L843.42 336.53 L845 333.6 L847.25 328 L849.62 318.72 L852.25 327.28 L853.75 324.83 L855.25 322 L857.37 319.36 L859.44 320.94 L861.5 322.64 L863.56 320.88 L865.62 319.36 L867.44 320.01 L869.25 320 L871.06 317.95 L872.87 315.44 L874.87 318.72 L876.94 316.3 L879 313.44 L881.12 315.44 L883.62 310.8 L884.94 312.56 L886.25 313.76 L888.31 311.88 L890.37 310.16 L891.94 310.93 L893.5 311.76 L895.56 310.55 L897.62 308.8 L899.69 307.35 L901.75 306.16 L903.42 305.38 L905.08 305.05 L906.75 304.08 L908.52 303.79 L910.3 302.76 L912.07 303.11 L913.85 301.71 L915.62 301.28 L917.37 300.67 L919.12 299.78 L920.88 298.35 L922.62 297.26 L924.38 295.6 L926.22 294.3 L928.06 293.74 L929.91 293.77 L931.75 293.76 L933.25 292.53 L934.75 291.69 L936.25 289.04 L938.21 287.2 L940.17 287.34 L942.12 286.16 L944.08 282.72 L946.04 279.98 L948 277.68 L949.96 277.85 L951.92 278.71 L953.88 278.64 L955.65 278.2 L957.43 278.18 L959.2 276.41 L960.98 276.9 L962.75 275.84 L964.71 276.97 L966.67 277.11 L968.62 277.68 L970.81 278.43 L973 278.64 L974.5 282.08 L976 286.16 L977.5 283.97 L979 282.4 L980.44 287.01 L981.88 291.84 L983.25 291.34 L984.62 291.2 L986.06 291.85 L987.5 290.88 L989.75 293.6 L991.25 289.86 L992.75 286.4 L994.5 292.8 L996.38 286.4 L998.62 279.2 L1000.75 281.6 L1002.62 285.26 L1004.5 288 L1006.69 284.46 L1008.88 280.8 L1010.62 283.29 L1012.37 285.81 L1014.12 288 L1016.25 283.2 L1017.75 282.72 L1019.25 282.92 L1020.75 282.4 L1022.19 283.71 L1023.62 284.8 L1025.88 282.4 L1027.58 283.84 L1029.29 286.3 L1031 288 L1032.5 290.55 L1034 292.8 L1035.44 293.33 L1036.88 293.6 L1037.5 292 L1039.21 290.26 L1040.92 287.51 L1042.62 285.44 L1044.81 283.1 L1047 280.48 L1048.69 280.13 L1050.37 279.36 L1051.69 276.07 L1053 273.28 L1054.69 270.34 L1056.38 266.72 L1058.56 264.11 L1060.75 262.32 L1063.25 264.48 L1064.56 266.88 L1065.88 270 L1068.5 278.8 L1071 287.6 L1072.31 291.59 L1073.62 295.28 L1075.37 301.92 L1077 308.16 L1078.62 309.7 L1080.25 311.81 L1081.88 313.68 L1083.54 314.53 L1085.21 316.31 L1086.88 317.6 L1088.5 318.59 L1090.12 320.31 L1091.75 321.52 L1093.37 322.13 L1095 323.73 L1096.62 324.64 L1098.16 325.75 L1099.69 327.02 L1101.22 328.16 L1102.75 329.36 L1104.31 330.18 L1105.88 330.55 L1107.44 330.98 L1109 332.48 L1110.81 333.09 L1112.62 333.42 L1114.44 334.15 L1116.25 334.88 L1118.09 335.78 L1119.94 335.88 L1121.78 337.01 L1123.62 338 L1125.29 338.87 L1126.96 339.78 L1128.62 341.12 L1130.67 341.1 L1132.71 340.87 L1134.75 340.8 L1136.59 340.65 L1138.44 340.68 L1140.28 341.27 L1142.12 341.12" fill="none" stroke="#111111" stroke-width="1.3" stroke-linejoin="round" transform="scale(0.8,1.25)"/>
<path d="M651.88 342 L653.64 342 L655.4 342 L657.17 342 L658.93 342 L660.69 342 L662.46 342 L664.22 342 L665.99 342 L667.75 342 L669.51 342 L671.28 342 L673.04 342 L674.81 342 L676.57 342 L678.33 342 L680.1 342 L681.86 342 L683.62 342 L685.39 342 L687.15 342 L688.92 342 L690.68 342 L692.44 342 L694.21 342 L695.97 342 L697.74 342 L699.5 342 L701.26 342 L703.03 342 L704.79 342 L706.56 342 L708.32 342 L710.08 342 L711.85 342 L713.61 342 L715.37 342 L717.14 342 L718.9 342 L720.67 342 L722.43 342 L724.19 342 L725.96 342 L727.72 342 L729.49 342 L731.25 342 L733.01 342.02 L734.77 342.05 L736.54 342.07 L738.3 342.1 L740.06 342.12 L741.83 342.14 L743.59 342.17 L745.35 342.19 L747.11 342.22 L748.88 342.24 L750.64 342.26 L752.4 342.29 L754.16 342.31 L755.92 342.34 L757.69 342.36 L759.45 342.38 L761.21 342.41 L762.97 342.43 L764.74 342.46 L766.5 342.48 L768.26 342.54 L770.02 342.61 L771.78 342.67 L773.54 342.73 L775.29 342.79 L777.05 342.86 L778.81 342.92 L780.57 342.98 L782.33 343.05 L784.09 343.11 L785.85 343.17 L787.61 343.23 L789.37 343.3 L791.12 343.36 L792.91 343.4 L794.69 343.44 L796.47 343.48 L798.25 343.52 L800.03 343.56 L801.81 343.6 L803.59 343.64 L805.37 343.68 L807.16 343.72 L808.94 343.76 L810.72 343.8 L812.5 343.84 L814.17 343.84 L815.83 343.84 L817.5 343.84 L819.69 343.56 L821.88 343.28 L824.06 343.96 L826.25 344.64 L828.12 344.7 L830 344.76 L831.88 344.82 L833.75 344.88 L835.75 344.56 L837.75 344.24 L840.25 341.76 L842.06 336.08 L843.88 330.72 L845.25 325.1 L846.62 319.2 L848.12 316.59 L849.62 313.76 L851.19 316.79 L852.75 320.72 L854.81 318.14 L856.88 316.08 L859.38 319.36 L861.19 318.04 L863 316.72 L865.06 315.16 L867.12 313.44 L869.75 316.08 L871.31 314.11 L872.87 311.76 L874.38 313.11 L875.88 314.08 L878.5 309.44 L879.81 310.85 L881.12 311.76 L883.62 306.8 L884.94 307.87 L886.25 309.12 L888.31 306.95 L890.37 304.88 L891.94 305.71 L893.5 306.16 L895.56 304.42 L897.62 302.88 L899.69 301.81 L901.75 300.24 L903.42 298.19 L905.08 298.9 L906.75 297.52 L908.71 296.14 L910.67 293.6 L912.62 293.76 L914.58 293.21 L916.54 291.48 L918.5 290 L920.46 289.38 L922.42 287.94 L924.38 288.08 L925.88 286.49 L927.37 286.66 L928.88 284.32 L931.06 284.2 L933.25 285.28 L935.44 279.94 L937.62 279.6 L939.12 278.02 L940.62 276.82 L942.12 276.72 L944.31 272.86 L946.5 269.2 L948 266.62 L949.5 264.48 L951.69 265.41 L953.88 267.36 L955.38 266.57 L956.88 267.31 L958.38 266.4 L960.56 264.63 L962.75 264.48 L964.94 267.02 L967.12 267.36 L969.08 267.35 L971.04 267.33 L973 268.24 L974.5 284.32 L975.88 279.82 L977.25 274.88 L978.62 284.32 L980.62 267.76 L982.37 287.12 L984.62 289.04 L986.75 287.12 L988.25 290.12 L989.75 292.8 L991.25 288.27 L992.75 284.32 L994.5 294.64 L996.38 284.32 L998.62 277.2 L1000.75 280.56 L1003 283.36 L1004.5 289.04 L1006.75 284.32 L1008.88 279.12 L1010.37 282.41 L1011.88 285.28 L1014.12 289.52 L1016.25 285.28 L1018.5 286.16 L1020.75 283.36 L1022.19 284.72 L1023.62 287.12 L1025.88 284.32 L1028.12 285.68 L1029.56 286.14 L1031 287.12 L1032.5 291.68 L1034 295.6 L1035.44 295.05 L1036.88 294.64 L1038.38 291.48 L1039.88 289.04 L1041.31 286.34 L1042.75 283.36 L1044.25 281.26 L1045.75 278.64 L1047.25 276.75 L1048.75 274.88 L1051.25 272.24 L1053 269.25 L1054.75 267.28 L1056.38 267.28 L1057.69 269.66 L1059 272.24 L1061.62 279.92 L1064.12 289.84 L1065.44 294.36 L1066.75 298.64 L1068.19 305.18 L1069.62 311.28 L1072.12 316 L1073.75 317.56 L1075.38 318.01 L1077 319.12 L1078.62 320.56 L1080.25 322.26 L1081.88 323.84 L1083.72 324.98 L1085.56 325.18 L1087.41 326.61 L1089.25 327.04 L1091.09 326.65 L1092.94 328.02 L1094.78 327.99 L1096.62 328.56 L1098.47 329.67 L1100.31 330.71 L1102.16 331.17 L1104 332.48 L1105.84 332.86 L1107.69 333.35 L1109.53 333.84 L1111.38 334.08 L1113.22 334.22 L1115.06 334.6 L1116.91 334.74 L1118.75 335.68 L1120.62 337.75 L1122.5 338.35 L1124.38 339.7 L1126.25 341.12 L1127.83 340.97 L1129.42 341.91 L1131 341.92 L1132.67 341.26 L1134.33 341.31 L1136 340.4 L1137.53 340.82 L1139.06 340.77 L1140.59 341.14 L1142.12 341.12" fill="none" stroke="#c82c2c" stroke-width="1.3" stroke-linejoin="round" transform="scale(0.8,1.25)"/>
<path d="M651.88 342 L653.62 342 L655.36 342 L657.1 342 L658.84 342 L660.58 342 L662.33 342 L664.07 342 L665.81 342 L667.55 342 L669.29 342 L671.04 342 L672.78 342 L674.52 342 L676.26 342 L678 342 L679.75 342 L681.49 342 L683.23 342 L684.97 342 L686.71 342 L688.45 342 L690.2 342 L691.94 342 L693.68 342 L695.42 342 L697.16 342 L698.91 342 L700.65 342 L702.39 342 L704.13 342 L705.87 342 L707.62 342 L709.36 342 L711.1 342 L712.84 342 L714.58 342 L716.33 342 L718.07 342 L719.81 342 L721.55 342 L723.29 342 L725.03 342 L726.78 342 L728.52 342 L730.26 342 L732 342 L733.74 342 L735.49 342 L737.23 342 L738.97 342 L740.71 342 L742.45 342 L744.2 342 L745.94 342 L747.68 342 L749.42 342 L751.16 342 L752.91 342 L754.65 342 L756.39 342 L758.13 342 L759.87 342 L761.61 342 L763.36 342 L765.1 342 L766.84 342 L768.58 342 L770.32 342 L772.07 342 L773.81 342 L775.55 342 L777.29 342 L779.03 342 L780.78 342 L782.52 342 L784.26 342 L786 342 L787.74 342 L789.48 342 L791.23 342 L792.97 342 L794.71 342 L796.45 342 L798.19 342 L799.94 342 L801.68 342 L803.42 342 L805.16 342 L806.9 342 L808.65 342 L810.39 342 L812.13 342 L813.87 342 L815.61 342 L817.36 342 L819.1 342 L820.84 342 L822.58 342 L824.32 342 L826.06 342 L827.81 342 L829.55 342 L831.29 342 L833.03 342 L834.77 342 L836.52 342 L838.26 342 L840 342 L841.67 341.75 L843.33 341.49 L845 340.97 L846.67 340.91 L848.33 340.6 L850 340.48 L851.79 340.23 L853.57 340.6 L855.36 340.62 L857.14 341.05 L858.93 339.96 L860.71 340.66 L862.5 340.88 L864.34 340.85 L866.19 341.15 L868.03 341.55 L869.87 341.74 L871.72 341.84 L873.56 341.91 L875.41 342.33 L877.25 342.4 L879.09 342.54 L880.94 342.06 L882.78 342.49 L884.62 342.27 L886.47 342.37 L888.31 342.74 L890.16 342.76 L892 342.8 L893.84 342.78 L895.69 342.49 L897.53 342.6 L899.38 342.38 L901.22 342.64 L903.06 342.67 L904.91 342.87 L906.75 342.4 L908.43 342.49 L910.11 341.77 L911.79 341.64 L913.46 341.31 L915.14 341.39 L916.82 341.57 L918.5 340.88 L920 340.13 L921.5 339.04 L923.69 339.71 L925.88 341.44 L927.72 340.54 L929.56 339.93 L931.41 339.76 L933.25 339.04 L935.02 338.85 L936.8 338.73 L938.57 338.89 L940.35 338.07 L942.12 338.08 L943.9 337.49 L945.67 337.78 L947.45 337.01 L949.22 336.36 L951 336.16 L952.75 335.11 L954.5 334.67 L956.25 333.89 L958 333.94 L959.75 333.36 L961.71 333.69 L963.67 334.24 L965.62 334.32 L967.4 333.34 L969.17 332.27 L970.95 331.31 L972.73 331 L974.5 329.6 L976.34 328.9 L978.19 329.08 L980.03 328.77 L981.88 328.48 L983.62 328.07 L985.37 327.36 L987 332.88 L988.31 328.38 L989.62 324.08 L991.38 329.04 L993.5 327.48 L995.62 325.68 L997.33 325.34 L999.04 324.58 L1000.75 324.08 L1002.5 322.85 L1004.25 321.84 L1006.37 322.08 L1008.5 322.4 L1010.69 321.33 L1012.87 320.72 L1015 320.15 L1017.12 319.68 L1019.25 319.33 L1021.38 319.12 L1023.56 318.05 L1025.75 316.88 L1027.87 317.76 L1030 318 L1031.71 317.94 L1033.42 317.15 L1035.12 316.88 L1036.88 317.86 L1038.62 318.56 L1040.31 319.19 L1042 319.68 L1043.75 317.94 L1045.5 315.84 L1047.21 314.38 L1048.92 312.97 L1050.62 311.44 L1052.38 312.13 L1054.12 313.04 L1055.81 311.49 L1057.5 310.32 L1059.08 309.54 L1060.67 308.66 L1062.25 307.36 L1063.92 305.68 L1065.58 303.78 L1067.25 301.84 L1068.88 299.29 L1070.5 296.51 L1072.12 294 L1074.5 283.76 L1075.75 295.6 L1078.25 312.08 L1080.75 309.76 L1082.56 308.93 L1084.38 308.96 L1086.25 309.52 L1088.12 309.76 L1089.94 308.61 L1091.75 307.36 L1093.56 306.83 L1095.37 306.56 L1097.87 302.64 L1100.37 279.04 L1102.75 305.04 L1105.25 280.64 L1107.12 280.81 L1109 281.44 L1110.81 283.71 L1112.62 285.36 L1114.44 286.89 L1116.25 289.28 L1118.75 296.4 L1120.56 298.38 L1122.38 299.52 L1124.25 301.63 L1126.12 303.44 L1128 306.37 L1129.88 308.16 L1131.69 309.55 L1133.5 311.28 L1136 308.96 L1138.38 313.68 L1140.25 315.63 L1142.12 317.6" fill="none" stroke="#2a2592" stroke-width="1.3" stroke-linejoin="round" transform="scale(0.8,1.25)"/>
<path d="M651.88 341.92 L653.62 341.92 L655.36 341.92 L657.1 341.92 L658.84 341.92 L660.58 341.92 L662.33 341.92 L664.07 341.92 L665.81 341.92 L667.55 341.92 L669.29 341.92 L671.04 341.92 L672.78 341.92 L674.52 341.92 L676.26 341.92 L678 341.92 L679.75 341.92 L681.49 341.92 L683.23 341.92 L684.97 341.92 L686.71 341.92 L688.45 341.92 L690.2 341.92 L691.94 341.92 L693.68 341.92 L695.42 341.92 L697.16 341.92 L698.91 341.92 L700.65 341.92 L702.39 341.92 L704.13 341.92 L705.87 341.92 L707.62 341.92 L709.36 341.92 L711.1 341.92 L712.84 341.92 L714.58 341.92 L716.33 341.92 L718.07 341.92 L719.81 341.92 L721.55 341.92 L723.29 341.92 L725.03 341.92 L726.78 341.92 L728.52 341.92 L730.26 341.92 L732 341.92 L733.74 341.92 L735.49 341.92 L737.23 341.92 L738.97 341.92 L740.71 341.92 L742.45 341.92 L744.2 341.92 L745.94 341.92 L747.68 341.92 L749.42 341.92 L751.16 341.92 L752.91 341.92 L754.65 341.92 L756.39 341.92 L758.13 341.92 L759.87 341.92 L761.61 341.92 L763.36 341.92 L765.1 341.92 L766.84 341.92 L768.58 341.92 L770.32 341.92 L772.07 341.92 L773.81 341.92 L775.55 341.92 L777.29 341.92 L779.03 341.92 L780.78 341.92 L782.52 341.92 L784.26 341.92 L786 341.92 L787.74 341.92 L789.48 341.92 L791.23 341.92 L792.97 341.92 L794.71 341.92 L796.45 341.92 L798.19 341.92 L799.94 341.92 L801.68 341.92 L803.42 341.92 L805.16 341.92 L806.9 341.92 L808.65 341.92 L810.39 341.92 L812.13 341.92 L813.87 341.92 L815.61 341.92 L817.36 341.92 L819.1 341.92 L820.84 341.92 L822.58 341.92 L824.32 341.92 L826.06 341.92 L827.81 341.92 L829.55 341.92 L831.29 341.92 L833.03 341.92 L834.77 341.92 L836.52 341.92 L838.26 341.92 L840 341.92 L841.67 341.73 L843.33 341.55 L845 341.36 L846.67 341.17 L848.33 340.99 L850 340.8 L851.79 340.81 L853.57 340.82 L855.36 340.83 L857.14 340.85 L858.93 340.86 L860.71 340.87 L862.5 340.88 L864.24 340.97 L865.97 341.06 L867.71 341.15 L869.44 341.24 L871.18 341.33 L872.91 341.42 L874.65 341.51 L876.38 341.6 L878.12 341.68 L879.85 341.77 L881.59 341.86 L883.32 341.95 L885.06 342.04 L886.79 342.13 L888.53 342.22 L890.26 342.31 L892 342.4 L893.74 342.4 L895.47 342.4 L897.21 342.4 L898.94 342.4 L900.68 342.4 L902.41 342.4 L904.15 342.4 L905.88 342.4 L907.62 342.4 L909.35 342.4 L911.09 342.4 L912.82 342.4 L914.56 342.4 L916.29 342.4 L918.03 342.4 L919.76 342.4 L921.5 342.4 L923.24 342.4 L924.97 342.4 L926.71 342.4 L928.44 342.4 L930.18 342.4 L931.91 342.4 L933.65 342.4 L935.38 342.4 L937.12 342.4 L938.85 342.4 L940.59 342.4 L942.32 342.4 L944.06 342.4 L945.79 342.4 L947.53 342.4 L949.26 342.4 L951 342.4 L952.71 342.39 L954.43 342.38 L956.14 342.37 L957.86 342.35 L959.57 342.34 L961.29 342.33 L963 342.32 L964.71 342.31 L966.43 342.3 L968.14 342.29 L969.86 342.27 L971.57 342.26 L973.29 342.25 L975 342.24 L976.72 342.2 L978.44 342.15 L980.16 342.11 L981.88 342.07 L983.61 342.02 L985.33 341.98 L987.05 341.94 L988.77 341.79 L990.49 341.88 L992.21 341.77 L993.93 341.62 L995.65 341.94 L997.37 341.68 L999.1 341.19 L1000.82 340.91 L1002.55 340.78 L1004.27 340.23 L1006 340 L1007.71 340.1 L1009.42 340.44 L1011.12 340.56 L1012.83 339.21 L1014.54 337.75 L1016.25 336.72 L1018 335.86 L1019.75 335.04 L1021.47 334.32 L1023.19 334.02 L1024.91 332.78 L1026.62 332.32 L1028.32 331.63 L1030.02 330.4 L1031.72 329.61 L1033.42 328.73 L1035.12 327.92 L1036.85 327.43 L1038.58 327 L1040.3 326.64 L1042.02 325.62 L1043.75 325.2 L1045.31 324.95 L1046.88 324.36 L1048.44 323.8 L1050 323.12 L1051.84 322.37 L1053.69 322.1 L1055.53 321.3 L1057.38 320.72 L1059.22 320.01 L1061.06 319.11 L1062.91 318.51 L1064.75 317.6 L1066.38 316.78 L1068 315.75 L1069.62 314.48 L1071.25 313.11 L1072.88 312.01 L1074.5 310.48 L1076.17 309.2 L1077.83 307.15 L1079.5 305.76 L1080.75 304.24 L1081.88 315.2 L1083.54 314.99 L1085.21 313.92 L1086.88 313.68 L1088.72 313.19 L1090.56 312.6 L1092.41 312.18 L1094.25 311.28 L1096.09 310.76 L1097.94 310.02 L1099.78 309.38 L1101.62 308.96 L1103.47 308.31 L1105.31 308.31 L1107.16 307.71 L1109 307.36 L1110.81 306.82 L1112.62 306.67 L1114.44 306.01 L1116.25 305.76 L1118.09 305.09 L1119.94 304.51 L1121.78 304.35 L1123.62 303.44 L1125.29 304 L1126.96 303.94 L1128.62 304.24 L1130.44 300.37 L1132.25 297.12 L1134.75 302.64 L1136.56 301.54 L1138.38 300.32 L1140.25 299.93 L1142.12 299.52" fill="none" stroke="#277f38" stroke-width="1.3" stroke-linejoin="round" transform="scale(0.8,1.25)"/>
<rect x="522" y="185" width="180" height="1" fill="#3f6a4a"/>
<rect x="522" y="186" width="180" height="1" fill="#9dbc9a"/>
<path d="M521.5 427.5 L672 427.5" stroke="#2f5c40" stroke-width="1.2" fill="none"/>
<g fill="#111" stroke="#111" stroke-width="0.3">
<text x="67" y="202.5" text-anchor="middle" font-size="14.1">04</text>
<text x="109.97" y="202.5" text-anchor="middle" font-size="14.1">05</text>
<text x="154.38" y="202.5" text-anchor="middle" font-size="14.1">06</text>
<text x="197.36" y="202.5" text-anchor="middle" font-size="14.1">07</text>
<text x="241.77" y="202.5" text-anchor="middle" font-size="14.1">08</text>
<text x="286.17" y="202.5" text-anchor="middle" font-size="14.1">09</text>
<text x="329.15" y="202.5" text-anchor="middle" font-size="14.1">10</text>
<text x="373.56" y="202.5" text-anchor="middle" font-size="14.1">11</text>
<text x="416.53" y="202.5" text-anchor="middle" font-size="14.1">12</text>
<text x="61.6" y="192.3" text-anchor="end" font-size="13.8">0</text>
<text x="61.6" y="158.9" text-anchor="end" font-size="13.8">5</text>
<text x="61.6" y="125.5" text-anchor="end" font-size="13.8">10</text>
<text x="61.6" y="92.1" text-anchor="end" font-size="13.8">15</text>
<text x="61.6" y="58.7" text-anchor="end" font-size="13.8">20</text>
<text x="61.6" y="25.3" text-anchor="end" font-size="13.8">25</text>
<text x="263.25" y="218.3" text-anchor="middle" font-size="13.7">Month</text>
<text transform="translate(38.9,104.8) rotate(-90)" text-anchor="middle" font-size="14.2">Temperature (°C)</text>
<text x="112.2" y="40" font-size="12">S0</text>
<text x="112.2" y="57.6" font-size="12">S1</text>
<text x="112.2" y="75.2" font-size="12">S2</text>
<text x="112.2" y="92.8" font-size="12">S3</text>
<text x="521.3" y="202.5" text-anchor="middle" font-size="14.1">04</text>
<text x="564.27" y="202.5" text-anchor="middle" font-size="14.1">05</text>
<text x="608.68" y="202.5" text-anchor="middle" font-size="14.1">06</text>
<text x="651.66" y="202.5" text-anchor="middle" font-size="14.1">07</text>
<text x="696.06" y="202.5" text-anchor="middle" font-size="14.1">08</text>
<text x="740.47" y="202.5" text-anchor="middle" font-size="14.1">09</text>
<text x="783.45" y="202.5" text-anchor="middle" font-size="14.1">10</text>
<text x="827.86" y="202.5" text-anchor="middle" font-size="14.1">11</text>
<text x="870.83" y="202.5" text-anchor="middle" font-size="14.1">12</text>
<text x="515.9" y="192.3" text-anchor="end" font-size="13.8">0</text>
<text x="515.9" y="164.47" text-anchor="end" font-size="13.8">5</text>
<text x="515.9" y="136.63" text-anchor="end" font-size="13.8">10</text>
<text x="515.9" y="108.8" text-anchor="end" font-size="13.8">15</text>
<text x="515.9" y="80.97" text-anchor="end" font-size="13.8">20</text>
<text x="515.9" y="53.13" text-anchor="end" font-size="13.8">25</text>
<text x="515.9" y="25.3" text-anchor="end" font-size="13.8">30</text>
<text x="717.4" y="218.3" text-anchor="middle" font-size="13.7">Month</text>
<text transform="translate(493.2,104.8) rotate(-90)" text-anchor="middle" font-size="14">Turbidity (NTU)</text>
<text x="566.5" y="40" font-size="12">S0</text>
<text x="566.5" y="57.6" font-size="12">S1</text>
<text x="566.5" y="75.2" font-size="12">S2</text>
<text x="566.5" y="92.8" font-size="12">S3</text>
<text x="67" y="451.5" text-anchor="middle" font-size="14.1">04</text>
<text x="109.97" y="451.5" text-anchor="middle" font-size="14.1">05</text>
<text x="154.38" y="451.5" text-anchor="middle" font-size="14.1">06</text>
<text x="197.36" y="451.5" text-anchor="middle" font-size="14.1">07</text>
<text x="241.77" y="451.5" text-anchor="middle" font-size="14.1">08</text>
<text x="286.17" y="451.5" text-anchor="middle" font-size="14.1">09</text>
<text x="329.15" y="451.5" text-anchor="middle" font-size="14.1">10</text>
<text x="373.56" y="451.5" text-anchor="middle" font-size="14.1">11</text>
<text x="416.53" y="451.5" text-anchor="middle" font-size="14.1">12</text>
<text x="61.6" y="441.3" text-anchor="end" font-size="13.8">0</text>
<text x="61.6" y="407.9" text-anchor="end" font-size="13.8">5</text>
<text x="61.6" y="374.5" text-anchor="end" font-size="13.8">10</text>
<text x="61.6" y="341.1" text-anchor="end" font-size="13.8">15</text>
<text x="61.6" y="307.7" text-anchor="end" font-size="13.8">20</text>
<text x="61.6" y="274.3" text-anchor="end" font-size="13.8">25</text>
<text x="263.25" y="467.3" text-anchor="middle" font-size="13.7">Month</text>
<text transform="translate(38.9,353.8) rotate(-90)" text-anchor="middle" font-size="14.2">Temperature (°C)</text>
<text x="112.2" y="289" font-size="12">S4</text>
<text x="112.2" y="306.6" font-size="12">S5</text>
<text x="112.2" y="324.2" font-size="12">S6</text>
<text x="112.2" y="341.8" font-size="12">S7</text>
<text x="521.3" y="451.5" text-anchor="middle" font-size="14.1">04</text>
<text x="564.27" y="451.5" text-anchor="middle" font-size="14.1">05</text>
<text x="608.68" y="451.5" text-anchor="middle" font-size="14.1">06</text>
<text x="651.66" y="451.5" text-anchor="middle" font-size="14.1">07</text>
<text x="696.06" y="451.5" text-anchor="middle" font-size="14.1">08</text>
<text x="740.47" y="451.5" text-anchor="middle" font-size="14.1">09</text>
<text x="783.45" y="451.5" text-anchor="middle" font-size="14.1">10</text>
<text x="827.86" y="451.5" text-anchor="middle" font-size="14.1">11</text>
<text x="870.83" y="451.5" text-anchor="middle" font-size="14.1">12</text>
<text x="515.9" y="441.3" text-anchor="end" font-size="13.8">0</text>
<text x="515.9" y="417.44" text-anchor="end" font-size="13.8">5</text>
<text x="515.9" y="393.59" text-anchor="end" font-size="13.8">10</text>
<text x="515.9" y="369.73" text-anchor="end" font-size="13.8">15</text>
<text x="515.9" y="345.87" text-anchor="end" font-size="13.8">20</text>
<text x="515.9" y="322.01" text-anchor="end" font-size="13.8">25</text>
<text x="515.9" y="298.16" text-anchor="end" font-size="13.8">30</text>
<text x="515.9" y="274.3" text-anchor="end" font-size="13.8">35</text>
<text x="717.4" y="467.3" text-anchor="middle" font-size="13.7">Month</text>
<text transform="translate(493.2,353.8) rotate(-90)" text-anchor="middle" font-size="14">Turbidity (NTU)</text>
<text x="566.5" y="289" font-size="12">S4</text>
<text x="566.5" y="306.6" font-size="12">S5</text>
<text x="566.5" y="324.2" font-size="12">S6</text>
<text x="566.5" y="341.8" font-size="12">S7</text>
<text transform="translate(472.2,248.6) scale(0.985,1.07)" text-anchor="middle" font-family="'Liberation Serif', 'Times New Roman', serif" font-size="15" stroke-width="0.2">(a)&#160; 2022</text>
<text transform="translate(472.4,497.9) scale(0.985,1.07)" text-anchor="middle" font-family="'Liberation Serif', 'Times New Roman', serif" font-size="15" stroke-width="0.2">(b)&#160; 2016</text>
</g>
</svg>
</body></html>
